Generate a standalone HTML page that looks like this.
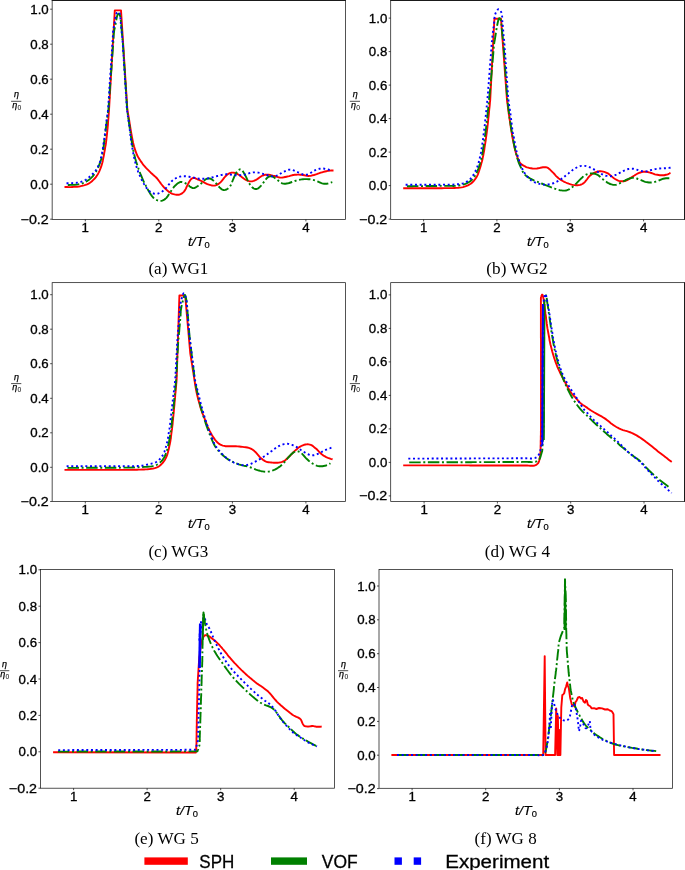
<!DOCTYPE html>
<html>
<head>
<meta charset="utf-8">
<title>Wave gauge comparison</title>
<style>
html,body{margin:0;padding:0;background:#ffffff;}
body{width:685px;height:870px;overflow:hidden;font-family:"Liberation Sans",sans-serif;}
svg{display:block;will-change:transform;}
</style>
</head>
<body>
<svg width="685" height="870" viewBox="0 0 685 870">
<rect x="0" y="0" width="685" height="870" fill="#ffffff"/>
<clipPath id="clip_a"><rect x="52.15" y="0.30" width="293.40" height="219.10"/></clipPath>
<g clip-path="url(#clip_a)" fill="none" stroke-linejoin="round">
<path d="M64.5,187.0 L65.6,187.0 L67.0,187.0 L68.8,187.1 L70.6,187.1 L72.3,187.0 L73.9,186.9 L75.5,186.8 L77.1,186.7 L78.8,186.5 L80.4,186.2 L82.1,185.8 L83.8,185.4 L85.5,184.9 L87.1,184.3 L88.6,183.6 L90.0,182.8 L91.3,181.8 L92.5,180.7 L93.6,179.6 L94.7,178.5 L95.7,177.4 L96.5,176.2 L97.3,175.0 L98.1,173.7 L98.8,172.3 L99.5,170.8 L100.2,169.2 L100.8,167.6 L101.4,165.9 L101.9,164.2 L102.4,162.5 L102.8,160.7 L103.1,159.0 L103.5,157.1 L103.9,155.0 L104.3,152.7 L104.8,150.1 L105.2,147.4 L105.7,144.9 L106.0,142.7 L106.2,140.9 L106.4,139.5 L106.5,138.2 L106.7,136.9 L106.8,135.6 L107.0,134.1 L107.1,132.7 L107.3,131.3 L107.4,129.9 L107.6,128.4 L107.7,126.8 L107.9,125.2 L108.0,123.5 L108.1,121.9 L108.2,120.2 L108.4,118.4 L108.5,116.5 L108.7,114.7 L108.8,113.1 L108.9,112.0 L114.8,10.4 L121.0,10.4 L127.4,110.0 L127.7,111.7 L128.1,114.0 L128.6,116.8 L129.1,119.6 L129.5,122.3 L129.9,124.8 L130.3,127.3 L130.7,129.8 L131.1,132.2 L131.5,134.5 L131.9,136.7 L132.3,138.8 L132.7,140.8 L133.1,142.8 L133.6,144.7 L134.1,146.6 L134.7,148.5 L135.3,150.4 L135.9,152.2 L136.6,153.9 L137.3,155.5 L138.1,157.0 L138.9,158.4 L139.8,159.7 L140.7,161.1 L141.6,162.4 L142.6,163.8 L143.6,165.1 L144.7,166.3 L145.8,167.6 L147.0,168.9 L148.3,170.2 L149.5,171.4 L150.8,172.7 L152.0,173.8 L153.1,174.8 L154.2,175.7 L155.2,176.6 L156.2,177.5 L157.1,178.5 L158.0,179.6 L158.8,180.7 L159.6,181.8 L160.4,182.9 L161.2,184.0 L162.0,185.0 L162.8,186.0 L163.6,186.9 L164.4,187.8 L165.3,188.7 L166.3,189.6 L167.3,190.5 L168.3,191.4 L169.4,192.1 L170.4,192.8 L171.4,193.3 L172.4,193.8 L173.5,194.1 L174.5,194.4 L175.5,194.6 L176.5,194.7 L177.6,194.7 L178.6,194.7 L179.6,194.5 L180.6,194.2 L181.5,193.7 L182.4,193.1 L183.2,192.4 L184.0,191.6 L184.7,190.7 L185.4,189.6 L186.0,188.4 L186.5,187.1 L187.1,185.8 L187.7,184.6 L188.3,183.5 L188.9,182.3 L189.6,181.2 L190.2,180.3 L190.8,179.5 L191.4,178.9 L192.0,178.5 L192.6,178.2 L193.2,178.0 L193.9,177.9 L194.6,178.0 L195.3,178.2 L196.0,178.6 L196.8,179.0 L197.5,179.3 L198.2,179.6 L198.9,179.9 L199.6,180.2 L200.4,180.5 L201.4,181.0 L202.6,181.6 L203.9,182.3 L205.3,183.1 L206.8,183.8 L208.2,184.4 L209.6,184.8 L211.0,185.2 L212.4,185.5 L213.7,185.6 L215.0,185.5 L216.2,185.2 L217.4,184.6 L218.5,183.9 L219.6,183.1 L220.7,182.1 L221.8,180.9 L223.0,179.4 L224.1,177.9 L225.3,176.5 L226.4,175.3 L227.5,174.4 L228.7,173.7 L229.8,173.2 L231.0,172.8 L232.1,172.6 L233.2,172.6 L234.3,172.8 L235.4,173.1 L236.6,173.6 L237.8,174.2 L239.1,175.0 L240.5,176.1 L242.0,177.2 L243.4,178.3 L244.7,179.2 L245.9,179.9 L247.1,180.5 L248.2,180.9 L249.3,181.2 L250.4,181.4 L251.5,181.4 L252.6,181.2 L253.8,180.9 L254.9,180.4 L256.0,179.9 L257.1,179.2 L258.3,178.4 L259.4,177.5 L260.6,176.7 L261.7,176.0 L262.8,175.5 L263.9,175.1 L265.0,174.8 L266.2,174.7 L267.4,174.6 L268.7,174.7 L270.1,174.9 L271.5,175.3 L272.9,175.7 L274.3,176.0 L275.7,176.4 L277.0,176.8 L278.4,177.2 L279.7,177.5 L281.1,177.6 L282.5,177.5 L283.8,177.3 L285.2,177.0 L286.5,176.7 L287.9,176.4 L289.3,176.1 L290.7,175.7 L292.0,175.3 L293.4,175.0 L294.8,174.8 L296.2,174.7 L297.5,174.6 L298.9,174.6 L300.2,174.7 L301.6,174.8 L303.0,175.0 L304.3,175.3 L305.7,175.6 L307.0,175.9 L308.4,176.0 L309.8,175.9 L311.2,175.7 L312.5,175.3 L313.9,175.0 L315.3,174.6 L316.7,174.2 L318.0,173.7 L319.4,173.2 L320.7,172.7 L322.1,172.3 L323.5,171.9 L324.9,171.5 L326.3,171.2 L327.7,170.9 L328.9,170.7 L330.0,170.6 L331.1,170.5 L332.1,170.5 L332.9,170.5 L333.5,170.5" stroke="#ff0000" stroke-width="1.90"/>
<path d="M67.8,185.0 L69.0,185.0 L70.6,184.9 L72.6,184.9 L74.6,184.8 L76.4,184.6 L78.1,184.4 L79.7,184.1 L81.3,183.7 L82.9,183.2 L84.5,182.6 L86.0,181.8 L87.5,180.8 L89.0,179.8 L90.4,178.6 L91.7,177.4 L92.9,176.2 L93.9,174.8 L94.9,173.5 L95.9,171.9 L96.8,170.3 L97.7,168.5 L98.6,166.5 L99.4,164.4 L100.2,162.3 L100.9,160.1 L101.5,157.9 L102.0,155.5 L102.5,153.1 L102.9,150.9 L103.3,148.8 L103.6,147.0 L103.8,145.3 L104.0,143.8 L104.2,142.2 L104.3,140.7 L104.6,139.0 L104.8,137.4 L105.0,135.8 L105.2,134.1 L105.4,132.5 L105.6,130.9 L105.8,129.2 L106.0,127.6 L106.2,125.9 L106.4,124.3 L106.6,122.6 L106.8,120.9 L107.0,119.2 L107.2,117.6 L107.4,116.1 L107.6,114.8 L107.8,113.6 L108.0,112.4 L108.2,111.2 L108.4,110.0 L108.5,108.6 L108.6,107.2 L108.7,105.8 L108.8,104.3 L108.9,102.9 L109.0,101.5 L109.1,100.1 L109.2,98.7 L109.3,97.2 L109.4,95.8 L109.5,94.4 L109.6,93.0 L109.7,91.6 L109.8,90.1 L109.9,88.7 L110.0,87.3 L110.1,85.9 L110.2,84.5 L110.3,83.1 L110.4,81.6 L110.5,80.2 L110.6,78.8 L110.7,77.4 L110.8,76.0 L110.9,74.5 L111.0,73.1 L111.1,71.7 L111.3,70.3 L111.4,68.9 L111.5,67.5 L111.6,66.0 L111.7,64.6 L111.8,63.2 L111.9,61.8 L112.0,60.4 L112.1,58.9 L112.2,57.5 L112.3,56.1 L112.4,54.7 L112.5,53.3 L112.6,51.9 L112.7,50.4 L112.8,49.0 L112.9,47.6 L113.0,46.2 L113.1,44.8 L113.2,43.3 L113.3,41.9 L113.4,40.5 L113.5,39.1 L113.6,37.7 L113.6,36.3 L113.7,34.9 L113.8,33.5 L114.0,32.0 L114.2,30.5 L114.5,28.9 L114.9,27.4 L115.2,25.8 L115.5,24.2 L115.8,22.6 L116.1,20.9 L116.4,19.3 L116.7,17.7 L117.0,16.5 L117.3,15.5 L117.7,14.7 L118.0,14.0 L118.4,13.7 L118.7,13.6 L119.1,13.9 L119.5,14.4 L119.8,15.2 L120.2,16.3 L120.5,17.5 L120.7,19.0 L120.9,20.8 L121.0,22.7 L121.2,24.7 L121.3,26.7 L121.5,28.5 L121.7,30.3 L121.8,32.2 L122.0,34.0 L122.2,35.8 L122.3,37.7 L122.5,39.6 L122.7,41.5 L122.9,43.3 L123.0,45.0 L123.1,46.6 L123.2,48.0 L123.3,49.4 L123.4,50.8 L123.5,52.2 L123.6,53.7 L123.7,55.1 L123.7,56.6 L123.8,58.0 L123.9,59.4 L124.0,60.9 L124.1,62.3 L124.2,63.8 L124.3,65.2 L124.4,66.7 L124.5,68.1 L124.6,69.6 L124.7,71.0 L124.8,72.4 L124.9,73.9 L125.0,75.3 L125.1,76.8 L125.1,78.2 L125.2,79.7 L125.3,81.1 L125.4,82.6 L125.5,84.0 L125.6,85.4 L125.7,86.9 L125.8,88.3 L125.9,89.8 L126.0,91.2 L126.1,92.7 L126.2,94.1 L126.3,95.6 L126.4,97.0 L126.5,98.4 L126.5,99.9 L126.6,101.3 L126.7,102.8 L126.8,104.2 L126.9,105.6 L127.0,107.0 L127.1,108.5 L127.2,110.0 L127.4,111.6 L127.6,113.2 L127.9,114.9 L128.1,116.5 L128.3,118.2 L128.6,119.8 L128.8,121.5 L129.0,123.1 L129.3,124.8 L129.5,126.4 L129.7,128.0 L130.0,129.7 L130.2,131.3 L130.5,132.9 L130.7,134.6 L130.9,136.1 L131.1,137.6 L131.3,139.1 L131.6,140.7 L131.9,142.7 L132.3,145.0 L132.8,147.6 L133.3,150.4 L133.9,153.3 L134.6,156.0 L135.3,158.7 L136.1,161.5 L137.0,164.2 L137.9,166.8 L138.7,169.3 L139.5,171.6 L140.3,173.7 L141.2,175.7 L142.0,177.6 L142.8,179.5 L143.6,181.3 L144.4,183.0 L145.3,184.6 L146.1,186.2 L146.9,187.7 L147.7,189.2 L148.5,190.8 L149.4,192.2 L150.2,193.6 L151.0,194.8 L151.8,195.9 L152.6,196.8 L153.3,197.7 L154.1,198.4 L155.0,199.1 L155.9,199.7 L157.0,200.2 L158.0,200.6 L159.1,200.9 L160.1,201.0 L161.2,200.9 L162.2,200.6 L163.3,200.1 L164.3,199.6 L165.3,198.9 L166.2,198.1 L167.0,197.1 L167.8,196.1 L168.5,194.9 L169.3,193.8 L170.1,192.6 L170.9,191.3 L171.8,190.0 L172.6,188.8 L173.4,187.7 L174.2,186.7 L175.0,185.8 L175.9,185.0 L176.7,184.2 L177.5,183.6 L178.3,183.0 L179.1,182.6 L179.9,182.2 L180.7,182.0 L181.6,181.9 L182.6,182.1 L183.6,182.4 L184.6,182.9 L185.7,183.4 L186.7,184.0 L187.7,184.7 L188.8,185.6 L189.8,186.4 L190.9,187.2 L191.8,187.7 L192.6,188.0 L193.4,188.1 L194.1,188.0 L194.8,187.8 L195.7,187.4 L196.7,186.8 L197.9,186.0 L199.1,185.1 L200.3,184.2 L201.4,183.3 L202.4,182.4 L203.3,181.5 L204.2,180.6 L205.0,179.8 L205.9,179.2 L206.8,178.8 L207.7,178.6 L208.7,178.4 L209.6,178.5 L210.5,178.7 L211.4,179.1 L212.3,179.7 L213.2,180.4 L214.1,181.2 L215.0,182.1 L215.9,183.1 L216.8,184.2 L217.8,185.4 L218.7,186.5 L219.6,187.4 L220.5,188.2 L221.4,189.0 L222.3,189.6 L223.2,190.0 L224.2,190.1 L225.3,189.9 L226.5,189.5 L227.7,188.8 L228.8,187.9 L229.9,186.7 L230.9,185.0 L231.8,182.9 L232.7,180.5 L233.6,178.3 L234.4,176.4 L235.2,174.9 L235.8,173.6 L236.5,172.4 L237.1,171.5 L237.8,170.7 L238.5,170.1 L239.2,169.7 L239.8,169.4 L240.5,169.4 L241.2,169.6 L241.9,170.1 L242.5,170.8 L243.2,171.8 L243.9,172.9 L244.7,174.2 L245.5,175.8 L246.4,177.7 L247.3,179.7 L248.3,181.7 L249.2,183.3 L250.1,184.7 L251.0,185.9 L252.0,187.0 L252.9,187.9 L253.8,188.5 L254.7,188.9 L255.6,189.0 L256.5,189.0 L257.4,188.7 L258.3,188.3 L259.2,187.6 L260.1,186.7 L261.1,185.6 L262.0,184.4 L262.9,183.3 L263.8,182.1 L264.7,180.9 L265.6,179.6 L266.5,178.5 L267.4,177.6 L268.3,177.0 L269.2,176.6 L270.2,176.4 L271.1,176.3 L272.0,176.4 L272.9,176.7 L273.7,177.2 L274.6,177.8 L275.5,178.5 L276.5,179.2 L277.6,180.0 L278.7,180.9 L279.9,181.9 L281.0,182.7 L282.2,183.3 L283.3,183.6 L284.4,183.7 L285.5,183.7 L286.7,183.5 L287.9,183.3 L289.2,183.0 L290.6,182.5 L292.0,182.0 L293.4,181.5 L294.8,181.0 L296.2,180.6 L297.5,180.2 L298.9,179.9 L300.2,179.6 L301.6,179.4 L303.0,179.2 L304.3,179.1 L305.7,179.1 L307.0,179.1 L308.4,179.2 L309.8,179.3 L311.2,179.5 L312.5,179.8 L313.9,180.1 L315.3,180.5 L316.7,181.0 L318.1,181.6 L319.6,182.3 L320.9,182.9 L322.1,183.3 L323.1,183.6 L324.0,183.7 L324.8,183.8 L325.7,183.8 L326.6,183.7 L327.8,183.5 L329.1,183.1 L330.4,182.7 L331.5,182.3 L332.3,182.1" stroke="#008000" stroke-width="1.90" stroke-dasharray="11.5 2.6 2.0 2.56"/>
<path d="M66.5,183.2 L67.9,183.2 L69.8,183.2 L72.1,183.1 L74.4,183.0 L76.4,182.8 L78.2,182.5 L79.9,182.1 L81.5,181.7 L83.0,181.1 L84.5,180.5 L85.9,179.7 L87.2,178.8 L88.4,177.9 L89.6,176.8 L90.7,175.8 L91.8,174.8 L92.9,173.8 L93.9,172.7 L94.9,171.6 L95.8,170.3 L96.7,168.9 L97.6,167.4 L98.4,165.7 L99.2,164.0 L99.9,162.1 L100.5,160.0 L101.1,157.6 L101.6,155.2 L102.1,152.9 L102.5,150.9 L102.8,149.2 L103.0,147.7 L103.2,146.4 L103.4,145.1 L103.5,143.8 L103.8,142.3 L104.0,140.9 L104.2,139.5 L104.4,138.1 L104.6,136.6 L104.8,135.0 L105.0,133.4 L105.2,131.7 L105.4,130.1 L105.6,128.4 L105.8,126.8 L106.0,125.2 L106.2,123.6 L106.4,122.0 L106.6,120.2 L106.9,118.2 L107.2,116.1 L107.5,114.0 L107.8,111.9 L108.0,110.0 L108.2,108.4 L108.3,106.9 L108.3,105.5 L108.4,104.1 L108.5,102.7 L108.6,101.3 L108.7,99.8 L108.8,98.4 L108.9,96.9 L109.0,95.5 L109.1,94.0 L109.2,92.5 L109.3,91.1 L109.3,89.6 L109.4,88.2 L109.5,86.7 L109.6,85.3 L109.7,83.8 L109.8,82.4 L109.9,80.9 L110.0,79.5 L110.1,78.0 L110.2,76.5 L110.3,75.1 L110.4,73.6 L110.5,72.2 L110.6,70.7 L110.7,69.3 L110.8,67.8 L110.9,66.4 L111.0,64.9 L111.1,63.5 L111.2,62.0 L111.3,60.5 L111.4,59.1 L111.5,57.6 L111.6,56.2 L111.7,54.7 L111.8,53.3 L111.9,51.8 L112.0,50.4 L112.0,48.9 L112.1,47.5 L112.2,46.0 L112.3,44.5 L112.4,43.1 L112.5,41.6 L112.6,40.2 L112.7,38.7 L112.8,37.3 L112.9,35.8 L113.0,34.4 L113.0,33.0 L113.1,31.5 L113.3,30.0 L113.5,28.4 L113.8,26.9 L114.2,25.2 L114.5,23.6 L114.8,22.0 L115.1,20.3 L115.4,18.5 L115.7,16.8 L116.0,15.2 L116.3,14.0 L116.7,13.1 L117.0,12.6 L117.4,12.2 L117.8,12.0 L118.2,12.0 L118.6,12.1 L119.0,12.4 L119.4,12.9 L119.7,13.5 L120.0,14.5 L120.2,15.8 L120.4,17.5 L120.5,19.3 L120.7,21.2 L120.8,23.0 L121.0,24.7 L121.2,26.4 L121.3,28.1 L121.5,29.8 L121.7,31.5 L121.8,33.2 L122.0,35.0 L122.2,36.7 L122.4,38.4 L122.5,40.0 L122.6,41.5 L122.7,42.9 L122.8,44.3 L122.9,45.6 L123.0,47.0 L123.0,48.4 L123.1,49.8 L123.2,51.2 L123.3,52.6 L123.4,54.0 L123.5,55.4 L123.6,56.8 L123.7,58.2 L123.8,59.6 L123.8,61.0 L123.9,62.4 L124.0,63.8 L124.1,65.2 L124.2,66.6 L124.3,68.0 L124.4,69.4 L124.5,70.8 L124.6,72.2 L124.7,73.6 L124.8,75.0 L124.8,76.4 L124.9,77.8 L125.0,79.2 L125.1,80.6 L125.2,82.0 L125.3,83.4 L125.4,84.8 L125.5,86.2 L125.6,87.6 L125.7,89.0 L125.7,90.4 L125.8,91.8 L125.9,93.2 L126.0,94.6 L126.1,96.0 L126.2,97.4 L126.3,98.8 L126.4,100.2 L126.5,101.6 L126.5,103.0 L126.6,104.4 L126.7,105.8 L126.8,107.2 L126.9,108.6 L127.0,110.0 L127.2,111.4 L127.4,112.8 L127.6,114.3 L127.8,115.7 L128.1,117.2 L128.3,118.6 L128.5,120.0 L128.7,121.4 L128.9,122.8 L129.1,124.3 L129.3,125.9 L129.5,127.5 L129.7,129.2 L129.9,130.8 L130.1,132.5 L130.3,134.1 L130.4,135.6 L130.6,137.1 L130.8,138.8 L131.1,140.7 L131.4,142.9 L131.8,145.3 L132.3,147.8 L132.7,150.4 L133.2,152.9 L133.7,155.4 L134.2,157.9 L134.8,160.4 L135.4,162.9 L136.0,165.2 L136.7,167.4 L137.4,169.5 L138.1,171.6 L138.9,173.5 L139.7,175.4 L140.5,177.2 L141.3,178.9 L142.1,180.6 L143.0,182.1 L143.8,183.6 L144.6,185.0 L145.4,186.3 L146.3,187.6 L147.1,188.7 L147.9,189.7 L148.7,190.5 L149.5,191.3 L150.4,191.9 L151.2,192.4 L152.0,192.8 L152.8,193.2 L153.6,193.5 L154.4,193.7 L155.2,193.8 L156.1,193.8 L157.1,193.7 L158.1,193.5 L159.1,193.2 L160.2,192.7 L161.2,192.2 L162.2,191.5 L163.2,190.7 L164.3,189.8 L165.3,188.8 L166.3,187.7 L167.3,186.5 L168.3,185.2 L169.4,183.9 L170.4,182.6 L171.4,181.5 L172.4,180.6 L173.4,179.8 L174.4,179.1 L175.4,178.5 L176.5,177.9 L177.6,177.4 L178.8,177.0 L180.0,176.6 L181.2,176.3 L182.6,176.2 L184.1,176.2 L185.7,176.3 L187.4,176.5 L189.1,176.7 L190.8,177.0 L192.4,177.3 L194.1,177.7 L195.7,178.1 L197.4,178.5 L199.1,178.7 L200.9,178.8 L202.7,178.8 L204.5,178.7 L206.4,178.5 L208.2,178.3 L210.0,178.0 L211.8,177.5 L213.7,177.0 L215.5,176.5 L217.3,176.0 L219.1,175.6 L220.9,175.1 L222.8,174.7 L224.6,174.4 L226.4,174.2 L228.2,174.3 L230.0,174.5 L231.9,174.9 L233.7,175.1 L235.5,175.3 L237.4,175.3 L239.3,175.2 L241.2,175.1 L243.0,174.9 L244.7,174.6 L246.2,174.3 L247.6,173.8 L248.9,173.3 L250.2,172.9 L251.5,172.6 L252.9,172.4 L254.2,172.4 L255.6,172.4 L256.9,172.4 L258.3,172.6 L259.7,172.9 L261.1,173.3 L262.4,173.7 L263.8,174.2 L265.2,174.6 L266.6,175.0 L268.0,175.5 L269.4,175.9 L270.7,176.2 L272.0,176.4 L273.2,176.4 L274.4,176.3 L275.5,176.0 L276.6,175.7 L277.7,175.3 L278.8,174.7 L279.9,174.1 L281.0,173.3 L282.2,172.5 L283.4,171.9 L284.7,171.3 L286.0,170.7 L287.4,170.1 L288.8,169.7 L290.2,169.6 L291.6,169.8 L292.9,170.2 L294.3,170.7 L295.6,171.3 L297.0,171.9 L298.4,172.5 L299.9,173.1 L301.3,173.7 L302.7,174.3 L303.9,174.6 L304.9,174.8 L305.8,174.8 L306.6,174.7 L307.5,174.5 L308.4,174.2 L309.4,173.7 L310.5,173.0 L311.7,172.2 L312.9,171.4 L314.1,170.7 L315.4,170.1 L316.8,169.6 L318.3,169.1 L319.7,168.7 L321.0,168.5 L322.2,168.4 L323.3,168.5 L324.4,168.7 L325.5,169.0 L326.6,169.2 L327.8,169.5 L329.1,169.8 L330.4,170.2 L331.5,170.5 L332.3,170.7" stroke="#0000ff" stroke-width="1.90" stroke-dasharray="2.0 2.68"/>
</g>
<rect x="52.15" y="0.30" width="293.40" height="219.10" fill="none" stroke="#1a1a1a" stroke-width="0.75"/>
<line x1="51.75" y1="0.5" x2="345.95" y2="0.5" stroke="#1a1a1a" stroke-width="1"/>
<line x1="85.30" y1="219.40" x2="85.30" y2="221.40" stroke="#1a1a1a" stroke-width="0.75"/>
<text x="85.30" y="232.30" font-family='"Liberation Sans", sans-serif' font-size="12.50" text-anchor="middle" textLength="7.38" lengthAdjust="spacingAndGlyphs" fill="#000" stroke="#000" stroke-width="0.3">1</text>
<line x1="158.80" y1="219.40" x2="158.80" y2="221.40" stroke="#1a1a1a" stroke-width="0.75"/>
<text x="158.80" y="232.30" font-family='"Liberation Sans", sans-serif' font-size="12.50" text-anchor="middle" textLength="7.38" lengthAdjust="spacingAndGlyphs" fill="#000" stroke="#000" stroke-width="0.3">2</text>
<line x1="232.40" y1="219.40" x2="232.40" y2="221.40" stroke="#1a1a1a" stroke-width="0.75"/>
<text x="232.40" y="232.30" font-family='"Liberation Sans", sans-serif' font-size="12.50" text-anchor="middle" textLength="7.38" lengthAdjust="spacingAndGlyphs" fill="#000" stroke="#000" stroke-width="0.3">3</text>
<line x1="305.90" y1="219.40" x2="305.90" y2="221.40" stroke="#1a1a1a" stroke-width="0.75"/>
<text x="305.90" y="232.30" font-family='"Liberation Sans", sans-serif' font-size="12.50" text-anchor="middle" textLength="7.38" lengthAdjust="spacingAndGlyphs" fill="#000" stroke="#000" stroke-width="0.3">4</text>
<line x1="50.15" y1="9.20" x2="52.15" y2="9.20" stroke="#1a1a1a" stroke-width="0.75"/>
<text x="48.75" y="13.70" font-family='"Liberation Sans", sans-serif' font-size="12.50" text-anchor="end" textLength="18.44" lengthAdjust="spacingAndGlyphs" fill="#000" stroke="#000" stroke-width="0.3">1.0</text>
<line x1="50.15" y1="44.20" x2="52.15" y2="44.20" stroke="#1a1a1a" stroke-width="0.75"/>
<text x="48.75" y="48.70" font-family='"Liberation Sans", sans-serif' font-size="12.50" text-anchor="end" textLength="18.44" lengthAdjust="spacingAndGlyphs" fill="#000" stroke="#000" stroke-width="0.3">0.8</text>
<line x1="50.15" y1="79.20" x2="52.15" y2="79.20" stroke="#1a1a1a" stroke-width="0.75"/>
<text x="48.75" y="83.70" font-family='"Liberation Sans", sans-serif' font-size="12.50" text-anchor="end" textLength="18.44" lengthAdjust="spacingAndGlyphs" fill="#000" stroke="#000" stroke-width="0.3">0.6</text>
<line x1="50.15" y1="114.20" x2="52.15" y2="114.20" stroke="#1a1a1a" stroke-width="0.75"/>
<text x="48.75" y="118.70" font-family='"Liberation Sans", sans-serif' font-size="12.50" text-anchor="end" textLength="18.44" lengthAdjust="spacingAndGlyphs" fill="#000" stroke="#000" stroke-width="0.3">0.4</text>
<line x1="50.15" y1="149.20" x2="52.15" y2="149.20" stroke="#1a1a1a" stroke-width="0.75"/>
<text x="48.75" y="153.70" font-family='"Liberation Sans", sans-serif' font-size="12.50" text-anchor="end" textLength="18.44" lengthAdjust="spacingAndGlyphs" fill="#000" stroke="#000" stroke-width="0.3">0.2</text>
<line x1="50.15" y1="184.20" x2="52.15" y2="184.20" stroke="#1a1a1a" stroke-width="0.75"/>
<text x="48.75" y="188.70" font-family='"Liberation Sans", sans-serif' font-size="12.50" text-anchor="end" textLength="18.44" lengthAdjust="spacingAndGlyphs" fill="#000" stroke="#000" stroke-width="0.3">0.0</text>
<line x1="50.15" y1="219.20" x2="52.15" y2="219.20" stroke="#1a1a1a" stroke-width="0.75"/>
<text x="48.75" y="223.70" font-family='"Liberation Sans", sans-serif' font-size="12.50" text-anchor="end" textLength="28.16" lengthAdjust="spacingAndGlyphs" fill="#000" stroke="#000" stroke-width="0.3">−0.2</text>
<text x="187.90" y="245.50" font-family='"Liberation Sans", sans-serif' font-size="12.1" font-style="italic" textLength="16.6" lengthAdjust="spacingAndGlyphs" stroke="#000" stroke-width="0.12">t/T</text>
<text x="204.60" y="247.70" font-family='"Liberation Sans", sans-serif' font-size="9.8" textLength="5.2" lengthAdjust="spacingAndGlyphs" stroke="#000" stroke-width="0.2">0</text>
<text x="16.50" y="97.30" font-family='"Liberation Sans", sans-serif' font-size="9.0" font-style="italic" text-anchor="middle" stroke="#000" stroke-width="0.25">η</text>
<line x1="11.10" y1="101.30" x2="21.30" y2="101.30" stroke="#222" stroke-width="0.8"/>
<text x="14.70" y="107.90" font-family='"Liberation Sans", sans-serif' font-size="9.0" font-style="italic" text-anchor="middle" stroke="#000" stroke-width="0.25">η</text>
<text x="19.50" y="109.60" font-family='"Liberation Sans", sans-serif' font-size="6.8" text-anchor="middle">0</text>
<text x="148.40" y="274.20" font-family='"Liberation Serif", serif' font-size="17.60" text-anchor="start" textLength="59.90" lengthAdjust="spacingAndGlyphs" fill="#000">(a) WG1</text>
<clipPath id="clip_b"><rect x="390.70" y="0.40" width="293.80" height="219.00"/></clipPath>
<g clip-path="url(#clip_b)" fill="none" stroke-linejoin="round">
<path d="M403.2,188.3 L404.3,188.3 L405.9,188.3 L407.7,188.3 L409.6,188.3 L411.4,188.3 L413.0,188.3 L414.6,188.3 L416.3,188.3 L417.9,188.3 L419.5,188.3 L421.2,188.3 L422.8,188.3 L424.5,188.3 L426.1,188.3 L427.7,188.3 L429.3,188.3 L430.9,188.3 L432.5,188.3 L434.1,188.3 L435.9,188.3 L437.8,188.3 L439.8,188.2 L441.9,188.2 L444.0,188.1 L446.1,188.1 L448.2,188.1 L450.3,188.1 L452.4,188.1 L454.4,188.0 L456.3,187.9 L458.1,187.8 L459.8,187.6 L461.5,187.4 L463.0,187.1 L464.5,186.7 L465.9,186.2 L467.2,185.7 L468.4,185.1 L469.5,184.5 L470.6,183.8 L471.6,183.1 L472.4,182.3 L473.2,181.5 L474.0,180.6 L474.7,179.7 L475.4,178.8 L476.0,177.9 L476.6,177.0 L477.2,175.9 L477.8,174.6 L478.4,173.0 L479.0,171.3 L479.6,169.3 L480.2,167.4 L480.8,165.4 L481.3,163.5 L481.9,161.5 L482.4,159.5 L482.8,157.4 L483.3,155.2 L483.7,152.9 L484.2,150.4 L484.5,147.9 L484.9,145.4 L485.3,142.9 L485.7,140.4 L486.0,137.8 L486.4,135.2 L486.7,132.8 L487.0,130.7 L487.2,128.9 L487.4,127.5 L487.5,126.1 L487.7,124.9 L487.8,123.5 L488.0,122.1 L488.1,120.7 L488.3,119.2 L488.4,117.8 L488.6,116.3 L488.8,114.7 L488.9,113.1 L489.1,111.5 L489.2,109.8 L489.4,108.2 L489.6,106.4 L489.8,104.5 L489.9,102.7 L490.1,101.1 L490.2,100.0 L494.4,18.8 L501.0,18.8 L507.0,100.0 L507.2,101.8 L507.6,104.3 L507.9,107.2 L508.3,110.0 L508.6,112.3 L508.8,114.1 L509.1,115.5 L509.3,116.8 L509.4,118.1 L509.6,119.4 L509.9,120.9 L510.1,122.3 L510.3,123.7 L510.5,125.2 L510.7,126.6 L510.9,128.0 L511.2,129.5 L511.4,130.9 L511.7,132.3 L511.9,133.8 L512.1,135.1 L512.3,136.4 L512.5,137.7 L512.8,139.1 L513.1,140.9 L513.6,143.1 L514.1,145.6 L514.7,148.2 L515.3,150.8 L516.0,153.1 L516.7,155.2 L517.4,157.3 L518.2,159.2 L518.9,160.9 L519.7,162.3 L520.4,163.4 L521.1,164.1 L521.9,164.6 L522.7,165.1 L523.6,165.6 L524.6,166.2 L525.8,166.8 L527.0,167.3 L528.3,167.7 L529.6,168.1 L531.0,168.3 L532.5,168.5 L534.0,168.6 L535.5,168.6 L536.9,168.5 L538.2,168.3 L539.5,168.1 L540.6,167.7 L541.8,167.5 L542.9,167.3 L543.9,167.2 L544.9,167.2 L545.8,167.2 L546.8,167.4 L547.7,167.8 L548.6,168.4 L549.6,169.2 L550.5,170.1 L551.5,171.1 L552.5,172.1 L553.6,173.2 L554.8,174.5 L555.9,175.8 L557.2,177.1 L558.5,178.2 L559.9,179.2 L561.3,180.1 L562.8,181.0 L564.3,181.8 L565.8,182.5 L567.2,183.1 L568.7,183.7 L570.1,184.2 L571.6,184.6 L573.0,184.9 L574.5,185.1 L576.0,185.2 L577.5,185.2 L578.9,185.1 L580.2,184.9 L581.3,184.5 L582.3,184.0 L583.2,183.4 L584.1,182.7 L585.0,181.8 L585.9,180.7 L586.9,179.5 L587.8,178.2 L588.8,176.9 L589.8,175.8 L590.9,174.9 L592.2,174.0 L593.4,173.3 L594.7,172.6 L595.9,172.1 L597.1,171.7 L598.3,171.5 L599.5,171.3 L600.7,171.3 L601.9,171.4 L603.1,171.6 L604.3,171.9 L605.5,172.3 L606.7,172.8 L607.9,173.4 L609.1,174.2 L610.3,175.2 L611.5,176.3 L612.7,177.3 L613.9,178.2 L615.1,179.0 L616.3,179.7 L617.6,180.3 L618.8,180.8 L620.0,181.1 L621.2,181.3 L622.4,181.3 L623.6,181.2 L624.8,181.0 L626.0,180.6 L627.2,180.1 L628.4,179.4 L629.6,178.6 L630.8,177.8 L632.0,177.0 L633.2,176.2 L634.4,175.5 L635.6,174.7 L636.8,174.0 L638.0,173.4 L639.2,172.9 L640.4,172.5 L641.6,172.1 L642.8,171.8 L644.0,171.7 L645.2,171.7 L646.4,171.8 L647.7,172.0 L648.9,172.3 L650.1,172.6 L651.3,173.0 L652.5,173.4 L653.7,173.8 L654.9,174.3 L656.1,174.6 L657.3,174.8 L658.6,175.0 L659.8,175.2 L661.0,175.3 L662.1,175.3 L663.2,175.3 L664.2,175.2 L665.1,175.0 L666.0,174.8 L666.9,174.6 L667.8,174.3 L668.6,173.9 L669.4,173.5 L670.0,173.1 L670.5,172.9" stroke="#ff0000" stroke-width="1.90"/>
<path d="M406.9,186.2 L407.9,186.2 L409.2,186.2 L410.8,186.2 L412.4,186.2 L414.0,186.1 L415.4,186.1 L416.8,186.1 L418.2,186.1 L419.6,186.1 L421.0,186.1 L422.4,186.1 L423.8,186.1 L425.2,186.1 L426.7,186.0 L428.1,186.0 L429.5,186.0 L430.9,186.0 L432.3,186.0 L433.7,186.0 L435.1,186.0 L436.5,186.0 L438.0,185.9 L439.4,185.9 L440.8,185.9 L442.2,185.9 L443.6,185.9 L445.0,185.9 L446.4,185.9 L447.8,185.9 L449.2,185.9 L450.6,185.9 L452.0,185.9 L453.3,186.0 L454.8,185.9 L456.3,185.8 L458.1,185.6 L460.0,185.2 L461.9,184.8 L463.8,184.3 L465.5,183.8 L467.0,183.2 L468.3,182.5 L469.5,181.8 L470.6,181.0 L471.6,180.1 L472.6,179.1 L473.4,178.1 L474.2,177.0 L475.0,175.8 L475.7,174.6 L476.4,173.3 L477.0,172.0 L477.6,170.6 L478.2,169.1 L478.8,167.4 L479.4,165.4 L480.1,163.3 L480.7,161.0 L481.4,158.6 L481.9,156.2 L482.4,153.7 L482.8,151.1 L483.2,148.5 L483.6,146.1 L483.9,143.9 L484.2,142.1 L484.4,140.5 L484.6,139.1 L484.8,137.7 L484.9,136.2 L485.2,134.7 L485.4,133.2 L485.6,131.6 L485.8,130.1 L486.0,128.6 L486.2,127.1 L486.3,125.7 L486.5,124.3 L486.6,122.9 L486.8,121.4 L487.0,120.0 L487.1,118.6 L487.3,117.2 L487.4,115.7 L487.6,114.3 L487.7,112.9 L487.9,111.4 L488.0,110.0 L488.2,108.6 L488.3,107.2 L488.4,105.7 L488.6,104.3 L488.7,102.9 L488.9,101.4 L489.0,100.0 L489.1,98.5 L489.3,97.1 L489.4,95.6 L489.6,94.2 L489.8,92.7 L489.9,91.3 L490.1,89.8 L490.2,88.4 L490.4,86.9 L490.5,85.4 L490.6,83.8 L490.8,82.2 L490.9,80.6 L491.1,78.9 L491.2,77.3 L491.3,75.7 L491.5,74.1 L491.6,72.5 L491.8,70.9 L491.9,69.2 L492.0,67.6 L492.2,66.0 L492.3,64.4 L492.5,62.8 L492.6,61.2 L492.7,59.5 L492.9,57.9 L493.0,56.3 L493.2,54.7 L493.3,53.1 L493.4,51.5 L493.5,49.9 L493.7,48.3 L493.8,46.7 L494.0,45.0 L494.2,43.2 L494.5,41.3 L494.9,39.4 L495.2,37.4 L495.5,35.5 L495.8,33.6 L496.1,31.6 L496.4,29.7 L496.7,27.8 L497.0,26.0 L497.4,24.2 L497.8,22.3 L498.2,20.6 L498.6,19.2 L499.0,18.4 L499.4,18.2 L499.9,18.4 L500.3,19.1 L500.7,20.0 L501.0,21.0 L501.2,22.3 L501.4,23.8 L501.6,25.5 L501.7,27.3 L501.8,29.0 L502.0,30.6 L502.2,32.2 L502.3,33.8 L502.5,35.4 L502.7,37.0 L502.8,38.6 L503.0,40.2 L503.2,41.8 L503.4,43.4 L503.5,45.0 L503.6,46.6 L503.7,48.2 L503.8,49.7 L504.0,51.3 L504.1,52.9 L504.2,54.4 L504.3,56.0 L504.4,57.6 L504.5,59.1 L504.6,60.7 L504.7,62.3 L504.8,63.9 L504.9,65.4 L505.1,67.0 L505.2,68.6 L505.3,70.1 L505.4,71.7 L505.5,73.3 L505.6,74.9 L505.7,76.4 L505.8,78.0 L506.0,79.6 L506.1,81.1 L506.2,82.7 L506.3,84.3 L506.4,85.9 L506.5,87.4 L506.6,89.0 L506.7,90.6 L506.8,92.1 L506.9,93.7 L507.0,95.3 L507.1,96.8 L507.3,98.4 L507.4,100.0 L507.6,101.6 L507.8,103.2 L508.0,104.9 L508.2,106.5 L508.4,108.2 L508.6,109.8 L508.8,111.4 L509.0,113.0 L509.2,114.7 L509.4,116.3 L509.6,117.9 L509.9,119.6 L510.1,121.2 L510.4,122.9 L510.6,124.5 L510.9,126.2 L511.1,127.8 L511.4,129.5 L511.6,131.1 L511.9,132.7 L512.2,134.2 L512.4,135.6 L512.7,137.0 L513.0,138.4 L513.2,139.8 L513.5,141.2 L513.7,142.5 L513.9,143.8 L514.2,145.2 L514.6,147.0 L515.1,149.2 L515.6,151.7 L516.3,154.4 L516.9,157.0 L517.6,159.3 L518.3,161.4 L519.0,163.4 L519.8,165.2 L520.6,166.9 L521.3,168.5 L522.0,169.9 L522.5,171.2 L523.1,172.4 L523.9,173.5 L524.8,174.6 L526.0,175.7 L527.3,176.6 L528.8,177.6 L530.3,178.5 L532.0,179.4 L533.8,180.3 L535.7,181.1 L537.7,181.9 L539.7,182.7 L541.7,183.5 L543.6,184.3 L545.6,185.1 L547.6,185.9 L549.5,186.6 L551.3,187.3 L553.1,188.0 L554.8,188.7 L556.5,189.3 L558.1,189.8 L559.7,190.2 L561.3,190.4 L562.8,190.6 L564.2,190.6 L565.6,190.5 L567.0,190.2 L568.3,189.7 L569.5,189.1 L570.7,188.4 L571.8,187.5 L573.0,186.6 L574.2,185.5 L575.4,184.3 L576.6,183.1 L577.8,181.8 L579.0,180.6 L580.2,179.4 L581.4,178.3 L582.6,177.1 L583.8,176.1 L585.0,175.3 L586.2,174.7 L587.4,174.1 L588.6,173.8 L589.8,173.5 L591.0,173.4 L592.2,173.4 L593.4,173.5 L594.7,173.7 L595.9,174.1 L597.1,174.6 L598.3,175.3 L599.5,176.3 L600.7,177.4 L601.9,178.4 L603.1,179.4 L604.3,180.3 L605.5,181.2 L606.7,182.1 L607.9,182.9 L609.1,183.5 L610.3,184.0 L611.5,184.4 L612.7,184.7 L613.9,184.9 L615.1,184.9 L616.3,184.7 L617.5,184.2 L618.8,183.7 L620.0,183.1 L621.2,182.5 L622.4,181.9 L623.6,181.2 L624.8,180.6 L626.0,179.9 L627.2,179.4 L628.4,178.9 L629.6,178.5 L630.8,178.1 L632.0,177.8 L633.2,177.7 L634.4,177.8 L635.6,178.1 L636.8,178.5 L638.0,179.0 L639.2,179.4 L640.4,179.9 L641.6,180.4 L642.8,180.9 L644.0,181.4 L645.2,181.8 L646.4,182.1 L647.6,182.3 L648.9,182.5 L650.1,182.5 L651.3,182.5 L652.5,182.4 L653.7,182.1 L654.9,181.8 L656.1,181.5 L657.3,181.1 L658.5,180.7 L659.7,180.1 L660.9,179.6 L662.1,179.1 L663.3,178.7 L664.6,178.5 L666.0,178.3 L667.3,178.3 L668.5,178.2 L669.3,178.2" stroke="#008000" stroke-width="1.90" stroke-dasharray="11.5 2.6 2.0 2.56"/>
<path d="M405.6,184.8 L406.6,184.8 L408.1,184.8 L409.8,184.8 L411.5,184.8 L413.2,184.8 L414.7,184.8 L416.2,184.8 L417.7,184.8 L419.2,184.8 L420.8,184.8 L422.3,184.8 L423.8,184.8 L425.3,184.8 L426.8,184.8 L428.3,184.8 L429.8,184.8 L431.2,184.8 L432.7,184.8 L434.2,184.8 L435.9,184.8 L437.8,184.8 L439.8,184.7 L441.9,184.7 L444.0,184.6 L446.1,184.6 L448.2,184.6 L450.3,184.6 L452.4,184.6 L454.4,184.5 L456.3,184.4 L458.1,184.2 L459.8,184.0 L461.5,183.7 L463.0,183.3 L464.5,182.8 L465.9,182.2 L467.2,181.4 L468.4,180.6 L469.5,179.7 L470.6,178.7 L471.6,177.6 L472.4,176.5 L473.2,175.2 L474.0,173.9 L474.7,172.6 L475.4,171.3 L476.0,169.9 L476.6,168.5 L477.2,167.0 L477.8,165.4 L478.4,163.6 L478.9,161.6 L479.4,159.6 L479.9,157.4 L480.4,155.2 L480.9,152.9 L481.3,150.4 L481.7,147.9 L482.1,145.4 L482.5,142.9 L482.9,140.4 L483.2,137.8 L483.5,135.2 L483.8,132.8 L484.1,130.7 L484.3,128.9 L484.5,127.5 L484.6,126.1 L484.8,124.9 L484.9,123.5 L485.1,122.1 L485.2,120.7 L485.4,119.2 L485.5,117.8 L485.7,116.3 L485.9,114.7 L486.0,113.1 L486.2,111.5 L486.4,109.8 L486.5,108.2 L486.7,106.5 L486.9,104.9 L487.1,103.2 L487.2,101.6 L487.4,100.0 L487.5,98.5 L487.6,97.0 L487.8,95.5 L487.9,94.0 L488.0,92.5 L488.1,91.0 L488.2,89.5 L488.3,88.0 L488.4,86.5 L488.5,85.0 L488.7,83.5 L488.8,82.0 L488.9,80.5 L489.0,79.0 L489.1,77.5 L489.2,76.0 L489.4,74.5 L489.5,73.0 L489.6,71.5 L489.7,70.0 L489.8,68.5 L489.9,67.0 L490.0,65.5 L490.2,64.0 L490.3,62.5 L490.4,61.0 L490.5,59.5 L490.6,58.0 L490.7,56.5 L490.9,55.0 L491.0,53.5 L491.1,52.0 L491.2,50.5 L491.3,49.0 L491.4,47.5 L491.5,46.0 L491.6,44.5 L491.7,43.1 L491.9,41.6 L492.0,40.0 L492.2,38.4 L492.4,36.7 L492.6,34.9 L492.8,33.2 L493.0,31.5 L493.2,29.8 L493.4,28.1 L493.7,26.4 L493.9,24.7 L494.1,23.0 L494.2,21.2 L494.4,19.4 L494.5,17.7 L494.7,16.0 L495.1,14.5 L495.6,13.1 L496.3,11.7 L497.0,10.5 L497.7,9.6 L498.4,9.2 L499.1,9.3 L499.8,9.9 L500.5,10.8 L501.1,11.9 L501.6,13.1 L501.9,14.4 L502.1,16.0 L502.2,17.7 L502.2,19.4 L502.3,21.1 L502.5,22.7 L502.6,24.3 L502.8,25.9 L502.9,27.5 L503.1,29.0 L503.2,30.6 L503.3,32.2 L503.5,33.8 L503.6,35.4 L503.8,37.0 L503.9,38.6 L504.1,40.2 L504.2,41.8 L504.4,43.4 L504.5,45.0 L504.6,46.6 L504.7,48.2 L504.8,49.7 L504.9,51.3 L505.1,52.9 L505.2,54.4 L505.3,56.0 L505.4,57.6 L505.5,59.1 L505.6,60.7 L505.7,62.3 L505.8,63.9 L505.9,65.4 L506.1,67.0 L506.2,68.6 L506.3,70.1 L506.4,71.7 L506.5,73.3 L506.6,74.9 L506.7,76.4 L506.8,78.0 L507.0,79.6 L507.1,81.1 L507.2,82.7 L507.3,84.3 L507.4,85.9 L507.5,87.4 L507.6,89.0 L507.7,90.6 L507.8,92.1 L507.9,93.7 L508.0,95.3 L508.1,96.9 L508.3,98.5 L508.4,100.0 L508.6,101.5 L508.8,102.9 L509.0,104.3 L509.2,105.7 L509.4,107.2 L509.7,108.6 L509.9,110.0 L510.1,111.4 L510.3,112.8 L510.5,114.3 L510.7,115.9 L510.9,117.5 L511.1,119.2 L511.3,120.8 L511.5,122.5 L511.7,124.2 L511.9,125.8 L512.1,127.5 L512.3,129.1 L512.5,130.7 L512.7,132.2 L513.0,133.6 L513.3,135.0 L513.6,136.4 L513.9,137.8 L514.1,139.2 L514.3,140.5 L514.6,141.8 L514.8,143.2 L515.2,145.0 L515.7,147.1 L516.2,149.6 L516.7,152.2 L517.4,154.8 L518.0,157.2 L518.7,159.4 L519.4,161.6 L520.2,163.7 L521.0,165.7 L521.7,167.4 L522.3,168.9 L522.8,170.1 L523.4,171.2 L524.0,172.2 L524.8,173.4 L525.8,174.7 L526.9,176.2 L528.2,177.6 L529.5,179.0 L530.8,180.1 L532.2,181.0 L533.6,181.8 L535.1,182.5 L536.6,183.0 L538.1,183.5 L539.5,183.9 L541.0,184.3 L542.4,184.5 L543.9,184.6 L545.3,184.7 L546.7,184.6 L548.2,184.5 L549.6,184.3 L551.1,183.9 L552.5,183.5 L553.9,183.0 L555.4,182.4 L556.8,181.7 L558.3,180.9 L559.7,180.1 L561.2,179.1 L562.6,178.1 L564.1,176.9 L565.5,175.7 L567.0,174.6 L568.5,173.4 L569.9,172.2 L571.4,171.1 L572.8,169.9 L574.2,169.0 L575.5,168.2 L576.7,167.5 L577.9,166.9 L579.0,166.5 L580.2,166.1 L581.4,165.9 L582.6,165.8 L583.8,165.8 L585.0,165.9 L586.2,166.1 L587.4,166.4 L588.6,166.8 L589.9,167.3 L591.1,167.9 L592.3,168.5 L593.5,169.1 L594.7,169.9 L595.9,170.6 L597.1,171.4 L598.3,172.1 L599.5,172.8 L600.7,173.5 L601.9,174.2 L603.1,174.8 L604.3,175.3 L605.5,175.7 L606.7,175.9 L607.9,176.1 L609.1,176.2 L610.3,176.2 L611.5,176.1 L612.7,175.8 L613.9,175.5 L615.1,175.1 L616.3,174.6 L617.5,174.0 L618.7,173.4 L620.0,172.7 L621.2,172.0 L622.4,171.4 L623.6,170.8 L624.8,170.3 L626.0,169.7 L627.2,169.3 L628.4,169.0 L629.6,168.8 L630.8,168.7 L632.0,168.7 L633.2,168.8 L634.4,169.0 L635.6,169.3 L636.8,169.7 L638.0,170.1 L639.2,170.6 L640.4,170.9 L641.6,171.1 L642.8,171.3 L644.0,171.4 L645.2,171.5 L646.4,171.4 L647.6,171.2 L648.8,170.9 L650.0,170.4 L651.2,170.0 L652.5,169.7 L653.9,169.4 L655.3,169.1 L656.8,168.9 L658.2,168.7 L659.7,168.5 L661.2,168.4 L662.7,168.3 L664.2,168.2 L665.6,168.2 L666.9,168.1 L668.0,168.0 L669.0,167.9 L669.9,167.8 L670.7,167.7 L671.2,167.6" stroke="#0000ff" stroke-width="1.90" stroke-dasharray="2.0 2.68"/>
</g>
<rect x="390.70" y="0.40" width="293.80" height="219.00" fill="none" stroke="#1a1a1a" stroke-width="0.75"/>
<line x1="390.30" y1="0.5" x2="684.90" y2="0.5" stroke="#1a1a1a" stroke-width="1"/>
<line x1="684.5" y1="0.00" x2="684.5" y2="219.80" stroke="#1a1a1a" stroke-width="1"/>
<line x1="423.60" y1="219.40" x2="423.60" y2="221.40" stroke="#1a1a1a" stroke-width="0.75"/>
<text x="423.60" y="232.30" font-family='"Liberation Sans", sans-serif' font-size="12.50" text-anchor="middle" textLength="7.38" lengthAdjust="spacingAndGlyphs" fill="#000" stroke="#000" stroke-width="0.3">1</text>
<line x1="496.90" y1="219.40" x2="496.90" y2="221.40" stroke="#1a1a1a" stroke-width="0.75"/>
<text x="496.90" y="232.30" font-family='"Liberation Sans", sans-serif' font-size="12.50" text-anchor="middle" textLength="7.38" lengthAdjust="spacingAndGlyphs" fill="#000" stroke="#000" stroke-width="0.3">2</text>
<line x1="570.30" y1="219.40" x2="570.30" y2="221.40" stroke="#1a1a1a" stroke-width="0.75"/>
<text x="570.30" y="232.30" font-family='"Liberation Sans", sans-serif' font-size="12.50" text-anchor="middle" textLength="7.38" lengthAdjust="spacingAndGlyphs" fill="#000" stroke="#000" stroke-width="0.3">3</text>
<line x1="643.60" y1="219.40" x2="643.60" y2="221.40" stroke="#1a1a1a" stroke-width="0.75"/>
<text x="643.60" y="232.30" font-family='"Liberation Sans", sans-serif' font-size="12.50" text-anchor="middle" textLength="7.38" lengthAdjust="spacingAndGlyphs" fill="#000" stroke="#000" stroke-width="0.3">4</text>
<line x1="388.70" y1="18.10" x2="390.70" y2="18.10" stroke="#1a1a1a" stroke-width="0.75"/>
<text x="387.30" y="22.60" font-family='"Liberation Sans", sans-serif' font-size="12.50" text-anchor="end" textLength="18.44" lengthAdjust="spacingAndGlyphs" fill="#000" stroke="#000" stroke-width="0.3">1.0</text>
<line x1="388.70" y1="51.60" x2="390.70" y2="51.60" stroke="#1a1a1a" stroke-width="0.75"/>
<text x="387.30" y="56.10" font-family='"Liberation Sans", sans-serif' font-size="12.50" text-anchor="end" textLength="18.44" lengthAdjust="spacingAndGlyphs" fill="#000" stroke="#000" stroke-width="0.3">0.8</text>
<line x1="388.70" y1="85.10" x2="390.70" y2="85.10" stroke="#1a1a1a" stroke-width="0.75"/>
<text x="387.30" y="89.60" font-family='"Liberation Sans", sans-serif' font-size="12.50" text-anchor="end" textLength="18.44" lengthAdjust="spacingAndGlyphs" fill="#000" stroke="#000" stroke-width="0.3">0.6</text>
<line x1="388.70" y1="118.60" x2="390.70" y2="118.60" stroke="#1a1a1a" stroke-width="0.75"/>
<text x="387.30" y="123.10" font-family='"Liberation Sans", sans-serif' font-size="12.50" text-anchor="end" textLength="18.44" lengthAdjust="spacingAndGlyphs" fill="#000" stroke="#000" stroke-width="0.3">0.4</text>
<line x1="388.70" y1="152.10" x2="390.70" y2="152.10" stroke="#1a1a1a" stroke-width="0.75"/>
<text x="387.30" y="156.60" font-family='"Liberation Sans", sans-serif' font-size="12.50" text-anchor="end" textLength="18.44" lengthAdjust="spacingAndGlyphs" fill="#000" stroke="#000" stroke-width="0.3">0.2</text>
<line x1="388.70" y1="185.60" x2="390.70" y2="185.60" stroke="#1a1a1a" stroke-width="0.75"/>
<text x="387.30" y="190.10" font-family='"Liberation Sans", sans-serif' font-size="12.50" text-anchor="end" textLength="18.44" lengthAdjust="spacingAndGlyphs" fill="#000" stroke="#000" stroke-width="0.3">0.0</text>
<line x1="388.70" y1="219.10" x2="390.70" y2="219.10" stroke="#1a1a1a" stroke-width="0.75"/>
<text x="387.30" y="223.60" font-family='"Liberation Sans", sans-serif' font-size="12.50" text-anchor="end" textLength="28.16" lengthAdjust="spacingAndGlyphs" fill="#000" stroke="#000" stroke-width="0.3">−0.2</text>
<text x="526.90" y="245.50" font-family='"Liberation Sans", sans-serif' font-size="12.1" font-style="italic" textLength="16.6" lengthAdjust="spacingAndGlyphs" stroke="#000" stroke-width="0.12">t/T</text>
<text x="543.60" y="247.70" font-family='"Liberation Sans", sans-serif' font-size="9.8" textLength="5.2" lengthAdjust="spacingAndGlyphs" stroke="#000" stroke-width="0.2">0</text>
<text x="355.20" y="97.30" font-family='"Liberation Sans", sans-serif' font-size="9.0" font-style="italic" text-anchor="middle" stroke="#000" stroke-width="0.25">η</text>
<line x1="349.80" y1="101.30" x2="360.00" y2="101.30" stroke="#222" stroke-width="0.8"/>
<text x="353.40" y="107.90" font-family='"Liberation Sans", sans-serif' font-size="9.0" font-style="italic" text-anchor="middle" stroke="#000" stroke-width="0.25">η</text>
<text x="358.20" y="109.60" font-family='"Liberation Sans", sans-serif' font-size="6.8" text-anchor="middle">0</text>
<text x="486.30" y="274.20" font-family='"Liberation Serif", serif' font-size="17.60" text-anchor="start" textLength="61.40" lengthAdjust="spacingAndGlyphs" fill="#000">(b) WG2</text>
<clipPath id="clip_c"><rect x="52.15" y="282.65" width="293.40" height="218.85"/></clipPath>
<g clip-path="url(#clip_c)" fill="none" stroke-linejoin="round">
<path d="M64.5,469.9 L65.5,469.9 L66.9,469.9 L68.5,469.9 L70.2,469.9 L71.8,469.9 L73.2,469.9 L74.7,469.9 L76.1,469.9 L77.6,469.9 L79.1,469.9 L80.5,469.9 L82.0,469.9 L83.4,469.9 L84.9,469.9 L86.3,469.9 L87.8,469.9 L89.2,469.9 L90.7,469.9 L92.2,469.9 L93.6,469.9 L95.1,469.9 L96.5,469.9 L98.0,469.9 L99.4,469.9 L100.9,469.9 L102.3,469.9 L103.8,469.9 L105.3,469.9 L106.7,469.9 L108.2,469.9 L109.6,469.9 L111.1,469.9 L112.5,469.9 L114.0,469.9 L115.4,469.9 L116.9,469.9 L118.4,469.9 L119.8,469.9 L121.3,469.9 L122.7,469.9 L124.2,469.9 L125.6,469.9 L127.0,469.9 L128.5,469.9 L130.0,469.9 L131.7,469.9 L133.4,469.8 L135.2,469.7 L137.0,469.7 L138.8,469.6 L140.5,469.6 L142.2,469.5 L144.0,469.5 L145.7,469.4 L147.5,469.3 L149.3,469.1 L151.2,468.8 L153.0,468.5 L154.8,468.1 L156.3,467.6 L157.6,467.1 L158.7,466.5 L159.7,465.8 L160.6,465.0 L161.5,464.1 L162.5,463.1 L163.4,461.9 L164.3,460.7 L165.1,459.4 L165.9,458.0 L166.5,456.6 L167.1,455.1 L167.6,453.5 L168.0,451.9 L168.5,450.1 L169.0,448.1 L169.4,445.9 L169.9,443.7 L170.3,441.5 L170.6,439.6 L170.9,438.0 L171.0,436.5 L171.2,435.2 L171.3,433.9 L171.5,432.6 L171.7,431.2 L171.9,429.8 L172.1,428.4 L172.2,427.0 L172.4,425.6 L172.6,424.2 L172.7,422.8 L172.8,421.4 L173.0,420.0 L173.1,418.6 L173.2,417.2 L173.4,415.8 L173.5,414.4 L173.7,413.0 L173.8,411.5 L173.9,410.0 L174.1,408.4 L174.2,406.8 L174.4,405.2 L174.5,403.6 L174.6,402.1 L174.8,400.5 L174.9,398.9 L175.1,397.4 L175.2,395.8 L175.3,394.2 L175.5,392.6 L175.6,391.1 L175.8,389.5 L175.9,387.9 L176.1,386.2 L176.2,384.4 L176.4,382.6 L176.5,381.1 L176.6,380.0 L179.4,295.5 L184.2,295.5 L185.4,297.8 L190.3,353.6 L190.5,354.8 L190.8,356.5 L191.1,358.5 L191.4,360.5 L191.7,362.4 L192.0,364.2 L192.3,365.9 L192.5,367.7 L192.8,369.4 L193.1,371.2 L193.4,372.9 L193.6,374.6 L193.9,376.4 L194.2,378.1 L194.5,380.0 L194.8,382.0 L195.1,384.1 L195.4,386.2 L195.8,388.4 L196.2,390.5 L196.6,392.6 L197.1,394.7 L197.6,396.8 L198.1,398.9 L198.7,401.0 L199.3,403.1 L199.9,405.3 L200.5,407.4 L201.1,409.5 L201.8,411.5 L202.5,413.4 L203.2,415.2 L203.9,416.9 L204.6,418.6 L205.3,420.3 L205.9,422.0 L206.5,423.6 L207.1,425.1 L207.7,426.8 L208.5,428.5 L209.4,430.4 L210.5,432.4 L211.6,434.5 L212.8,436.4 L213.9,438.1 L214.9,439.6 L216.0,440.9 L217.0,442.0 L218.1,443.0 L219.2,443.9 L220.4,444.6 L221.6,445.2 L222.8,445.6 L224.2,445.9 L225.6,446.2 L227.2,446.3 L228.8,446.3 L230.6,446.3 L232.4,446.2 L234.1,446.2 L235.8,446.3 L237.5,446.4 L239.3,446.5 L241.0,446.7 L242.6,446.9 L244.2,447.1 L245.8,447.3 L247.3,447.5 L248.8,447.9 L250.1,448.3 L251.3,448.9 L252.4,449.5 L253.4,450.3 L254.4,451.1 L255.4,452.0 L256.5,453.1 L257.5,454.3 L258.6,455.6 L259.6,456.8 L260.7,457.9 L261.8,458.8 L262.8,459.7 L263.9,460.4 L265.0,461.1 L266.1,461.6 L267.3,462.0 L268.6,462.2 L269.9,462.4 L271.2,462.5 L272.5,462.6 L273.8,462.7 L275.1,462.8 L276.4,462.8 L277.7,462.7 L278.9,462.6 L280.0,462.4 L281.1,462.2 L282.1,461.9 L283.2,461.5 L284.2,460.9 L285.3,460.2 L286.3,459.3 L287.4,458.3 L288.4,457.2 L289.5,456.2 L290.6,455.2 L291.6,454.1 L292.7,453.0 L293.7,451.9 L294.8,450.9 L295.9,449.9 L297.0,449.0 L298.0,448.1 L299.1,447.3 L300.2,446.6 L301.3,446.0 L302.3,445.5 L303.4,445.1 L304.4,444.7 L305.5,444.5 L306.6,444.4 L307.6,444.3 L308.7,444.4 L309.7,444.6 L310.8,444.9 L311.9,445.4 L313.0,446.1 L314.0,447.0 L315.1,447.9 L316.2,448.8 L317.3,449.8 L318.3,450.9 L319.4,452.1 L320.4,453.2 L321.5,454.1 L322.6,454.9 L323.6,455.6 L324.6,456.2 L325.7,456.8 L326.8,457.3 L328.0,457.8 L329.4,458.3 L330.7,458.8 L331.8,459.1 L332.6,459.4" stroke="#ff0000" stroke-width="1.90"/>
<path d="M67.5,467.9 L68.6,467.9 L70.1,467.9 L71.8,467.9 L73.6,467.9 L75.3,467.9 L76.9,467.9 L78.4,467.8 L80.0,467.8 L81.6,467.8 L83.1,467.8 L84.7,467.8 L86.2,467.8 L87.8,467.8 L89.4,467.8 L90.9,467.8 L92.5,467.8 L94.1,467.8 L95.6,467.8 L97.2,467.8 L98.8,467.8 L100.3,467.7 L101.9,467.7 L103.4,467.7 L105.0,467.7 L106.6,467.7 L108.1,467.7 L109.7,467.7 L111.2,467.7 L112.8,467.7 L114.4,467.7 L115.9,467.7 L117.5,467.7 L119.1,467.7 L120.6,467.6 L122.2,467.6 L123.7,467.6 L125.2,467.6 L126.7,467.6 L128.3,467.6 L130.0,467.6 L131.9,467.5 L134.0,467.4 L136.2,467.3 L138.4,467.2 L140.5,467.1 L142.7,467.0 L144.9,466.9 L147.1,466.8 L149.1,466.6 L151.0,466.4 L152.7,466.1 L154.1,465.7 L155.5,465.3 L156.8,464.8 L158.0,464.1 L159.2,463.3 L160.3,462.3 L161.4,461.2 L162.4,460.1 L163.3,458.8 L164.1,457.5 L164.9,456.0 L165.6,454.5 L166.2,452.8 L166.8,451.0 L167.4,448.9 L168.0,446.5 L168.5,444.0 L169.0,441.7 L169.4,439.6 L169.7,437.9 L169.9,436.5 L170.1,435.2 L170.3,433.9 L170.4,432.6 L170.7,431.2 L170.9,429.8 L171.1,428.5 L171.3,427.1 L171.5,425.6 L171.7,424.1 L171.9,422.5 L172.0,420.9 L172.2,419.3 L172.4,417.7 L172.6,416.1 L172.8,414.5 L173.0,413.0 L173.1,411.4 L173.3,409.8 L173.5,408.2 L173.6,406.6 L173.8,405.1 L173.9,403.5 L174.1,401.9 L174.2,400.3 L174.4,398.7 L174.5,397.1 L174.7,395.5 L174.8,394.0 L174.9,392.5 L175.1,391.1 L175.2,389.8 L175.3,388.4 L175.4,387.0 L175.6,385.6 L175.7,384.2 L175.9,382.8 L176.0,381.4 L176.1,380.0 L176.2,378.6 L176.3,377.2 L176.3,375.8 L176.4,374.4 L176.5,373.0 L176.6,371.6 L176.6,370.2 L176.7,368.8 L176.8,367.4 L176.9,366.0 L176.9,364.6 L177.0,363.2 L177.1,361.8 L177.2,360.4 L177.2,359.0 L177.3,357.6 L177.4,356.2 L177.5,354.8 L177.5,353.4 L177.6,352.0 L177.7,350.6 L177.8,349.2 L177.8,347.8 L177.9,346.4 L178.0,345.0 L178.1,343.5 L178.2,342.1 L178.4,340.6 L178.5,339.1 L178.6,337.6 L178.8,336.1 L178.9,334.6 L179.0,333.2 L179.2,331.7 L179.3,330.2 L179.4,328.7 L179.5,327.2 L179.7,325.8 L179.8,324.3 L179.9,322.8 L180.0,321.3 L180.2,319.8 L180.3,318.4 L180.4,316.9 L180.6,315.4 L180.6,314.0 L180.7,312.7 L180.7,311.4 L180.9,309.8 L181.2,308.0 L181.7,305.4 L182.5,302.2 L183.3,299.0 L184.0,296.4 L184.7,295.0 L185.2,295.2 L185.7,296.7 L186.1,298.7 L186.5,301.0 L186.8,302.8 L187.0,304.3 L187.1,305.7 L187.2,307.1 L187.3,308.4 L187.4,309.8 L187.5,311.2 L187.6,312.7 L187.7,314.1 L187.8,315.5 L188.0,316.9 L188.1,318.3 L188.2,319.7 L188.3,321.1 L188.4,322.5 L188.5,323.9 L188.7,325.3 L188.8,326.7 L188.9,328.1 L189.0,329.6 L189.1,331.0 L189.2,332.4 L189.3,333.8 L189.4,335.2 L189.6,336.6 L189.7,338.0 L189.9,339.4 L190.0,340.8 L190.2,342.2 L190.4,343.6 L190.5,345.0 L190.7,346.4 L190.9,347.8 L191.1,349.2 L191.2,350.6 L191.4,352.0 L191.6,353.4 L191.7,354.8 L191.9,356.2 L192.1,357.6 L192.2,359.0 L192.4,360.4 L192.6,361.8 L192.8,363.2 L192.9,364.6 L193.1,366.0 L193.3,367.4 L193.4,368.8 L193.6,370.2 L193.8,371.6 L194.0,373.0 L194.1,374.3 L194.2,375.5 L194.3,376.8 L194.5,378.2 L194.8,380.0 L195.2,382.3 L195.8,384.9 L196.3,387.7 L196.9,390.5 L197.5,393.1 L198.0,395.5 L198.5,397.7 L199.0,400.0 L199.5,402.2 L200.1,404.5 L200.7,406.9 L201.4,409.4 L202.2,412.0 L202.9,414.4 L203.6,416.8 L204.3,419.0 L205.0,421.1 L205.6,423.1 L206.3,425.2 L207.1,427.3 L207.9,429.6 L208.8,431.9 L209.7,434.3 L210.6,436.6 L211.5,438.7 L212.3,440.7 L213.2,442.5 L214.0,444.3 L214.9,446.0 L216.0,447.7 L217.3,449.4 L218.7,451.1 L220.2,452.8 L221.8,454.3 L223.4,455.8 L225.0,457.1 L226.8,458.4 L228.5,459.6 L230.3,460.6 L232.0,461.6 L233.7,462.4 L235.4,463.1 L237.1,463.7 L238.8,464.3 L240.5,464.8 L242.2,465.3 L243.9,465.7 L245.6,466.0 L247.3,466.4 L249.0,466.9 L250.7,467.5 L252.5,468.2 L254.3,468.9 L255.9,469.6 L257.5,470.1 L258.9,470.5 L260.2,470.9 L261.4,471.2 L262.7,471.4 L263.9,471.6 L265.2,471.7 L266.5,471.7 L267.7,471.6 L269.0,471.5 L270.3,471.2 L271.6,470.9 L272.9,470.4 L274.1,469.9 L275.4,469.3 L276.7,468.6 L278.0,467.8 L279.3,466.9 L280.6,465.9 L281.9,464.8 L283.1,463.7 L284.2,462.5 L285.3,461.1 L286.4,459.8 L287.4,458.5 L288.4,457.3 L289.3,456.3 L290.2,455.3 L291.0,454.4 L291.9,453.7 L292.7,453.0 L293.6,452.4 L294.4,452.0 L295.3,451.6 L296.1,451.4 L297.0,451.3 L297.8,451.4 L298.6,451.5 L299.4,451.9 L300.3,452.3 L301.2,453.0 L302.2,453.9 L303.3,455.1 L304.4,456.4 L305.5,457.7 L306.6,458.8 L307.7,459.8 L308.7,460.7 L309.8,461.6 L310.8,462.4 L311.9,463.1 L313.0,463.8 L314.0,464.4 L315.1,465.0 L316.1,465.4 L317.2,465.8 L318.3,466.1 L319.3,466.2 L320.4,466.3 L321.4,466.3 L322.5,466.2 L323.6,466.0 L324.8,465.8 L325.9,465.5 L327.0,465.1 L327.9,464.8 L328.6,464.5 L329.2,464.1 L329.7,463.8 L330.1,463.5 L330.4,463.3" stroke="#008000" stroke-width="1.90" stroke-dasharray="11.5 2.6 2.0 2.56"/>
<path d="M66.6,466.1 L67.6,466.1 L68.9,466.1 L70.5,466.1 L72.1,466.1 L73.6,466.1 L75.1,466.1 L76.5,466.1 L77.9,466.1 L79.3,466.1 L80.7,466.1 L82.1,466.1 L83.5,466.1 L84.9,466.1 L86.3,466.1 L87.7,466.1 L89.1,466.1 L90.6,466.1 L92.0,466.1 L93.4,466.1 L94.8,466.1 L96.2,466.1 L97.6,466.1 L99.0,466.1 L100.4,466.1 L101.8,466.1 L103.2,466.1 L104.6,466.1 L106.0,466.1 L107.5,466.1 L108.9,466.1 L110.3,466.1 L111.7,466.1 L113.1,466.1 L114.5,466.1 L115.9,466.1 L117.3,466.1 L118.7,466.1 L120.1,466.1 L121.5,466.1 L123.0,466.1 L124.3,466.1 L125.6,466.1 L126.9,466.1 L128.4,466.1 L130.0,466.1 L131.9,466.1 L134.0,466.1 L136.3,466.0 L138.5,466.0 L140.5,465.8 L142.4,465.6 L144.2,465.2 L146.0,464.9 L147.7,464.5 L149.3,464.1 L150.8,463.8 L152.3,463.4 L153.7,463.1 L155.0,462.6 L156.3,462.0 L157.5,461.2 L158.6,460.3 L159.6,459.3 L160.6,458.3 L161.5,457.1 L162.3,455.9 L163.1,454.6 L163.7,453.3 L164.4,451.8 L165.0,450.1 L165.6,448.2 L166.2,446.0 L166.8,443.7 L167.3,441.5 L167.7,439.6 L168.0,438.0 L168.3,436.5 L168.4,435.2 L168.6,433.9 L168.8,432.6 L169.0,431.2 L169.2,429.8 L169.5,428.5 L169.7,427.1 L169.9,425.6 L170.1,424.1 L170.3,422.5 L170.4,420.9 L170.6,419.3 L170.8,417.7 L171.0,416.1 L171.2,414.5 L171.3,412.9 L171.5,411.3 L171.7,409.8 L171.9,408.3 L172.0,406.9 L172.2,405.6 L172.3,404.2 L172.5,402.8 L172.7,401.4 L172.8,400.0 L173.0,398.7 L173.1,397.3 L173.3,395.8 L173.5,394.3 L173.7,392.7 L173.9,391.1 L174.1,389.5 L174.2,387.9 L174.4,386.3 L174.7,384.7 L174.9,383.2 L175.0,381.6 L175.2,380.0 L175.3,378.4 L175.4,376.8 L175.5,375.2 L175.6,373.6 L175.6,372.0 L175.7,370.4 L175.8,368.8 L175.9,367.2 L176.0,365.6 L176.1,364.0 L176.2,362.4 L176.3,360.8 L176.3,359.2 L176.4,357.6 L176.5,356.0 L176.6,354.4 L176.7,352.8 L176.8,351.2 L176.9,349.6 L177.0,348.0 L177.0,346.4 L177.1,344.8 L177.2,343.1 L177.3,341.5 L177.4,340.0 L177.5,338.5 L177.6,337.1 L177.7,335.8 L177.8,334.4 L178.0,333.0 L178.1,331.6 L178.2,330.2 L178.3,328.8 L178.4,327.4 L178.5,326.0 L178.6,324.6 L178.7,323.2 L178.9,321.8 L179.0,320.4 L179.1,319.0 L179.2,317.6 L179.3,316.2 L179.4,314.8 L179.5,313.4 L179.6,312.0 L179.7,310.7 L179.7,309.4 L179.8,308.1 L179.9,306.7 L180.2,305.0 L180.7,302.7 L181.4,299.8 L182.1,296.8 L182.9,294.5 L183.6,293.3 L184.2,293.5 L184.9,294.8 L185.5,296.6 L186.0,298.7 L186.4,300.5 L186.7,302.1 L186.8,303.8 L186.9,305.6 L187.0,307.4 L187.1,309.1 L187.3,310.9 L187.4,312.6 L187.6,314.3 L187.7,316.0 L187.9,317.8 L188.0,319.5 L188.1,321.2 L188.3,322.9 L188.4,324.6 L188.6,326.4 L188.7,328.1 L188.9,329.9 L189.0,331.6 L189.1,333.3 L189.3,335.0 L189.5,336.6 L189.7,338.1 L189.9,339.6 L190.1,341.0 L190.2,342.5 L190.4,344.0 L190.6,345.5 L190.8,347.0 L191.0,348.5 L191.2,350.0 L191.4,351.5 L191.6,353.0 L191.8,354.5 L192.0,356.0 L192.2,357.5 L192.3,359.0 L192.5,360.5 L192.7,362.0 L192.9,363.5 L193.1,365.0 L193.3,366.5 L193.5,368.0 L193.7,369.5 L193.9,371.0 L194.1,372.5 L194.2,373.9 L194.3,375.3 L194.5,376.7 L194.7,378.2 L195.0,380.0 L195.5,382.2 L196.1,384.6 L196.7,387.2 L197.4,389.8 L198.0,392.3 L198.6,394.7 L199.2,397.2 L199.8,399.6 L200.4,402.1 L201.0,404.5 L201.7,407.0 L202.4,409.5 L203.1,412.0 L203.8,414.5 L204.5,416.8 L205.2,419.0 L205.9,421.1 L206.5,423.1 L207.2,425.2 L208.0,427.3 L208.8,429.6 L209.7,432.0 L210.6,434.3 L211.5,436.6 L212.3,438.7 L213.0,440.5 L213.6,442.1 L214.3,443.6 L215.0,445.0 L216.0,446.6 L217.2,448.3 L218.6,450.1 L220.2,451.9 L221.8,453.6 L223.4,455.2 L225.0,456.7 L226.8,458.1 L228.5,459.4 L230.3,460.6 L232.0,461.6 L233.7,462.5 L235.5,463.3 L237.2,463.9 L238.9,464.4 L240.5,464.8 L242.1,465.1 L243.6,465.2 L245.1,465.2 L246.5,465.1 L248.0,464.8 L249.5,464.4 L251.0,463.8 L252.4,463.1 L253.9,462.4 L255.4,461.6 L256.9,460.8 L258.4,460.0 L259.9,459.1 L261.4,458.2 L262.9,457.3 L264.4,456.3 L265.9,455.3 L267.3,454.2 L268.8,453.1 L270.3,452.0 L271.8,450.9 L273.3,449.7 L274.9,448.6 L276.4,447.5 L277.8,446.6 L279.2,445.9 L280.5,445.3 L281.8,444.8 L283.0,444.4 L284.2,444.1 L285.3,443.9 L286.3,443.8 L287.4,443.8 L288.4,443.9 L289.5,444.1 L290.7,444.4 L292.0,444.8 L293.3,445.4 L294.6,445.9 L295.9,446.6 L297.2,447.4 L298.5,448.2 L299.7,449.1 L301.0,450.1 L302.3,450.9 L303.6,451.7 L304.9,452.5 L306.2,453.3 L307.5,454.0 L308.7,454.5 L309.8,454.9 L310.9,455.1 L311.9,455.3 L313.0,455.3 L314.0,455.2 L315.1,455.0 L316.1,454.6 L317.2,454.1 L318.3,453.6 L319.4,453.0 L320.6,452.4 L321.8,451.8 L323.1,451.1 L324.4,450.4 L325.7,449.8 L327.2,449.2 L328.7,448.6 L330.3,448.1 L331.7,447.6 L332.6,447.3" stroke="#0000ff" stroke-width="1.90" stroke-dasharray="2.0 2.68"/>
</g>
<rect x="52.15" y="282.65" width="293.40" height="218.85" fill="none" stroke="#1a1a1a" stroke-width="0.75"/>
<line x1="85.30" y1="501.50" x2="85.30" y2="503.50" stroke="#1a1a1a" stroke-width="0.75"/>
<text x="85.30" y="514.40" font-family='"Liberation Sans", sans-serif' font-size="12.50" text-anchor="middle" textLength="7.38" lengthAdjust="spacingAndGlyphs" fill="#000" stroke="#000" stroke-width="0.3">1</text>
<line x1="158.80" y1="501.50" x2="158.80" y2="503.50" stroke="#1a1a1a" stroke-width="0.75"/>
<text x="158.80" y="514.40" font-family='"Liberation Sans", sans-serif' font-size="12.50" text-anchor="middle" textLength="7.38" lengthAdjust="spacingAndGlyphs" fill="#000" stroke="#000" stroke-width="0.3">2</text>
<line x1="232.40" y1="501.50" x2="232.40" y2="503.50" stroke="#1a1a1a" stroke-width="0.75"/>
<text x="232.40" y="514.40" font-family='"Liberation Sans", sans-serif' font-size="12.50" text-anchor="middle" textLength="7.38" lengthAdjust="spacingAndGlyphs" fill="#000" stroke="#000" stroke-width="0.3">3</text>
<line x1="305.90" y1="501.50" x2="305.90" y2="503.50" stroke="#1a1a1a" stroke-width="0.75"/>
<text x="305.90" y="514.40" font-family='"Liberation Sans", sans-serif' font-size="12.50" text-anchor="middle" textLength="7.38" lengthAdjust="spacingAndGlyphs" fill="#000" stroke="#000" stroke-width="0.3">4</text>
<line x1="50.15" y1="294.70" x2="52.15" y2="294.70" stroke="#1a1a1a" stroke-width="0.75"/>
<text x="48.75" y="299.20" font-family='"Liberation Sans", sans-serif' font-size="12.50" text-anchor="end" textLength="18.44" lengthAdjust="spacingAndGlyphs" fill="#000" stroke="#000" stroke-width="0.3">1.0</text>
<line x1="50.15" y1="329.20" x2="52.15" y2="329.20" stroke="#1a1a1a" stroke-width="0.75"/>
<text x="48.75" y="333.70" font-family='"Liberation Sans", sans-serif' font-size="12.50" text-anchor="end" textLength="18.44" lengthAdjust="spacingAndGlyphs" fill="#000" stroke="#000" stroke-width="0.3">0.8</text>
<line x1="50.15" y1="363.70" x2="52.15" y2="363.70" stroke="#1a1a1a" stroke-width="0.75"/>
<text x="48.75" y="368.20" font-family='"Liberation Sans", sans-serif' font-size="12.50" text-anchor="end" textLength="18.44" lengthAdjust="spacingAndGlyphs" fill="#000" stroke="#000" stroke-width="0.3">0.6</text>
<line x1="50.15" y1="398.30" x2="52.15" y2="398.30" stroke="#1a1a1a" stroke-width="0.75"/>
<text x="48.75" y="402.80" font-family='"Liberation Sans", sans-serif' font-size="12.50" text-anchor="end" textLength="18.44" lengthAdjust="spacingAndGlyphs" fill="#000" stroke="#000" stroke-width="0.3">0.4</text>
<line x1="50.15" y1="432.80" x2="52.15" y2="432.80" stroke="#1a1a1a" stroke-width="0.75"/>
<text x="48.75" y="437.30" font-family='"Liberation Sans", sans-serif' font-size="12.50" text-anchor="end" textLength="18.44" lengthAdjust="spacingAndGlyphs" fill="#000" stroke="#000" stroke-width="0.3">0.2</text>
<line x1="50.15" y1="467.30" x2="52.15" y2="467.30" stroke="#1a1a1a" stroke-width="0.75"/>
<text x="48.75" y="471.80" font-family='"Liberation Sans", sans-serif' font-size="12.50" text-anchor="end" textLength="18.44" lengthAdjust="spacingAndGlyphs" fill="#000" stroke="#000" stroke-width="0.3">0.0</text>
<line x1="50.15" y1="501.50" x2="52.15" y2="501.50" stroke="#1a1a1a" stroke-width="0.75"/>
<text x="48.75" y="506.00" font-family='"Liberation Sans", sans-serif' font-size="12.50" text-anchor="end" textLength="28.16" lengthAdjust="spacingAndGlyphs" fill="#000" stroke="#000" stroke-width="0.3">−0.2</text>
<text x="187.90" y="528.00" font-family='"Liberation Sans", sans-serif' font-size="12.1" font-style="italic" textLength="16.6" lengthAdjust="spacingAndGlyphs" stroke="#000" stroke-width="0.12">t/T</text>
<text x="204.60" y="530.20" font-family='"Liberation Sans", sans-serif' font-size="9.8" textLength="5.2" lengthAdjust="spacingAndGlyphs" stroke="#000" stroke-width="0.2">0</text>
<text x="16.50" y="379.60" font-family='"Liberation Sans", sans-serif' font-size="9.0" font-style="italic" text-anchor="middle" stroke="#000" stroke-width="0.25">η</text>
<line x1="11.10" y1="383.60" x2="21.30" y2="383.60" stroke="#222" stroke-width="0.8"/>
<text x="14.70" y="390.20" font-family='"Liberation Sans", sans-serif' font-size="9.0" font-style="italic" text-anchor="middle" stroke="#000" stroke-width="0.25">η</text>
<text x="19.50" y="391.90" font-family='"Liberation Sans", sans-serif' font-size="6.8" text-anchor="middle">0</text>
<text x="148.40" y="556.70" font-family='"Liberation Serif", serif' font-size="17.60" text-anchor="start" textLength="59.90" lengthAdjust="spacingAndGlyphs" fill="#000">(c) WG3</text>
<clipPath id="clip_d"><rect x="390.70" y="282.65" width="293.80" height="218.85"/></clipPath>
<g clip-path="url(#clip_d)" fill="none" stroke-linejoin="round">
<path d="M403.2,465.4 L404.2,465.4 L405.6,465.4 L407.2,465.4 L408.9,465.4 L410.5,465.4 L412.0,465.4 L413.4,465.4 L414.9,465.4 L416.3,465.4 L417.8,465.4 L419.2,465.4 L420.7,465.4 L422.2,465.4 L423.6,465.4 L425.1,465.4 L426.5,465.4 L428.0,465.4 L429.5,465.4 L430.9,465.4 L432.4,465.4 L433.8,465.4 L435.3,465.4 L436.8,465.4 L438.2,465.4 L439.7,465.4 L441.1,465.4 L442.6,465.4 L444.0,465.4 L445.5,465.4 L447.0,465.4 L448.4,465.4 L449.9,465.4 L451.3,465.4 L452.8,465.4 L454.3,465.4 L455.7,465.4 L457.2,465.4 L458.6,465.4 L460.1,465.4 L461.6,465.4 L463.0,465.4 L464.5,465.4 L465.9,465.4 L467.4,465.4 L468.9,465.4 L470.3,465.5 L471.8,465.5 L473.2,465.5 L474.7,465.5 L476.1,465.5 L477.6,465.5 L479.1,465.5 L480.5,465.5 L482.0,465.5 L483.4,465.5 L484.9,465.5 L486.4,465.5 L487.8,465.5 L489.3,465.5 L490.7,465.5 L492.2,465.5 L493.7,465.5 L495.1,465.5 L496.6,465.5 L498.0,465.5 L499.5,465.5 L500.9,465.5 L502.4,465.5 L503.9,465.5 L505.3,465.5 L506.8,465.5 L508.2,465.5 L509.7,465.5 L511.2,465.5 L512.6,465.5 L514.1,465.5 L515.5,465.5 L517.0,465.5 L518.5,465.5 L519.9,465.5 L521.4,465.5 L522.8,465.5 L524.3,465.5 L525.7,465.5 L527.2,465.5 L528.7,465.6 L530.3,465.7 L531.8,465.8 L533.2,465.7 L534.5,465.5 L535.6,465.1 L536.6,464.6 L537.4,463.9 L538.2,463.1 L538.8,461.9 L539.3,460.2 L539.7,458.0 L540.1,455.7 L540.3,453.7 L540.5,452.3 L540.5,451.2 L540.6,449.7 L540.6,447.9 L540.6,446.0 L540.7,444.3 L540.7,442.7 L540.7,441.1 L540.8,439.4 L540.8,437.8 L540.8,436.2 L540.9,434.6 L540.9,433.0 L540.9,431.4 L541.0,429.8 L541.0,428.2 L541.0,426.6 L541.0,425.0 L541.0,423.4 L541.0,421.8 L541.0,420.2 L541.0,418.6 L541.0,417.0 L541.0,415.3 L541.0,413.7 L541.0,412.1 L541.0,410.5 L541.0,408.9 L541.0,407.3 L541.0,405.7 L541.0,404.1 L541.0,402.5 L541.0,400.9 L541.0,399.3 L541.0,397.7 L541.0,396.1 L541.0,394.5 L541.0,392.9 L541.0,391.2 L541.0,389.6 L541.0,388.0 L541.0,386.4 L541.0,384.8 L541.0,383.2 L541.0,381.6 L541.0,380.0 L541.0,378.5 L541.0,377.0 L541.0,375.5 L541.0,374.0 L541.0,372.5 L541.0,371.0 L541.0,369.5 L541.0,368.0 L541.0,366.5 L541.0,365.0 L541.0,363.5 L541.0,362.0 L541.0,360.5 L541.0,359.0 L541.0,357.5 L541.0,356.0 L541.0,354.5 L541.0,353.0 L541.0,351.5 L541.0,350.0 L541.0,348.5 L541.0,347.0 L541.0,345.5 L541.0,344.0 L541.0,342.5 L541.0,341.0 L541.0,339.5 L540.9,338.0 L540.9,336.5 L540.9,335.0 L540.9,333.5 L540.9,332.0 L540.9,330.5 L540.9,329.0 L540.9,327.5 L540.9,326.0 L540.9,324.5 L540.9,323.0 L540.9,321.5 L540.9,320.0 L540.9,318.5 L540.9,317.0 L540.9,315.5 L540.9,314.0 L540.9,312.5 L540.9,311.0 L540.9,309.5 L540.9,308.0 L540.9,306.5 L540.9,305.0 L540.9,303.4 L540.9,301.6 L540.9,300.0 L540.9,298.5 L540.9,297.5 L541.1,297.0 L541.4,296.1 L541.7,295.3 L542.0,294.7 L542.3,294.6 L542.6,295.1 L542.9,296.0 L543.2,297.2 L543.5,298.7 L543.8,300.4 L544.1,302.4 L544.4,304.8 L544.7,307.4 L545.0,309.9 L545.3,312.1 L545.5,313.9 L545.8,315.6 L546.0,317.1 L546.1,318.6 L546.3,320.1 L546.6,321.8 L546.7,323.4 L546.9,325.0 L547.2,326.6 L547.4,328.2 L547.7,329.8 L548.0,331.4 L548.3,333.0 L548.6,334.6 L548.9,336.2 L549.2,337.7 L549.4,339.2 L549.6,340.6 L550.0,342.3 L550.4,344.2 L551.0,346.5 L551.7,349.2 L552.4,352.0 L553.2,354.8 L554.0,357.4 L554.8,359.8 L555.6,362.2 L556.5,364.5 L557.4,366.8 L558.4,369.1 L559.5,371.4 L560.6,373.8 L561.8,376.1 L563.0,378.4 L564.2,380.7 L565.5,383.1 L566.8,385.5 L568.1,387.9 L569.4,390.1 L570.6,392.0 L571.7,393.5 L572.6,394.6 L573.6,395.6 L574.5,396.5 L575.4,397.4 L576.3,398.6 L577.3,399.7 L578.2,400.8 L579.2,401.9 L580.2,402.9 L581.3,403.8 L582.5,404.7 L583.8,405.5 L585.0,406.3 L586.2,407.1 L587.4,407.9 L588.4,408.7 L589.5,409.4 L590.7,410.3 L592.3,411.3 L594.4,412.5 L596.8,413.8 L599.5,415.3 L602.0,416.7 L604.3,418.1 L606.2,419.4 L607.9,420.8 L609.5,422.1 L611.1,423.4 L612.7,424.6 L614.4,425.7 L616.0,426.7 L617.7,427.7 L619.4,428.6 L621.2,429.4 L623.0,430.1 L625.0,430.7 L626.9,431.2 L628.9,431.8 L630.8,432.5 L632.7,433.4 L634.6,434.4 L636.6,435.4 L638.5,436.6 L640.4,437.8 L642.3,439.1 L644.3,440.5 L646.2,442.0 L648.2,443.5 L650.1,445.0 L652.1,446.6 L654.1,448.2 L656.1,449.8 L658.0,451.4 L659.7,452.7 L661.1,453.8 L662.4,454.8 L663.5,455.6 L664.6,456.4 L665.7,457.3 L667.0,458.3 L668.4,459.4 L669.7,460.4 L670.9,461.3 L671.7,461.9" stroke="#ff0000" stroke-width="1.90"/>
<path d="M409.2,462.4 L410.2,462.4 L411.6,462.4 L413.3,462.4 L415.0,462.4 L416.6,462.4 L418.0,462.4 L419.5,462.4 L421.0,462.4 L422.5,462.3 L423.9,462.3 L425.4,462.3 L426.9,462.3 L428.4,462.3 L429.8,462.3 L431.3,462.3 L432.8,462.3 L434.3,462.3 L435.7,462.3 L437.2,462.3 L438.7,462.3 L440.2,462.3 L441.6,462.3 L443.1,462.3 L444.6,462.3 L446.1,462.3 L447.5,462.2 L449.0,462.2 L450.5,462.2 L451.9,462.2 L453.4,462.2 L454.9,462.2 L456.4,462.2 L457.8,462.2 L459.3,462.2 L460.8,462.2 L462.3,462.2 L463.7,462.2 L465.2,462.2 L466.7,462.2 L468.2,462.2 L469.6,462.2 L471.1,462.2 L472.6,462.1 L474.1,462.1 L475.5,462.1 L477.0,462.1 L478.5,462.1 L480.0,462.1 L481.4,462.1 L482.9,462.1 L484.4,462.1 L485.9,462.1 L487.3,462.1 L488.8,462.1 L490.3,462.1 L491.8,462.1 L493.2,462.1 L494.7,462.1 L496.2,462.1 L497.6,462.0 L499.1,462.0 L500.6,462.0 L502.1,462.0 L503.5,462.0 L505.0,462.0 L506.5,462.0 L508.0,462.0 L509.4,462.0 L510.9,462.0 L512.4,462.0 L513.9,462.0 L515.3,462.0 L516.8,462.0 L518.3,462.0 L519.8,462.0 L521.2,462.0 L522.7,461.9 L524.2,461.9 L525.7,461.9 L527.1,461.9 L528.6,462.0 L530.2,462.0 L531.7,462.1 L533.2,462.1 L534.5,461.9 L535.7,461.7 L536.7,461.4 L537.6,461.0 L538.5,460.4 L539.3,459.5 L540.0,458.1 L540.7,456.1 L541.3,454.1 L541.8,452.3 L542.2,451.0 L542.3,450.0 L542.4,448.5 L542.5,446.8 L542.6,445.0 L542.7,443.4 L542.8,441.9 L542.9,440.4 L542.9,438.8 L543.0,437.3 L543.1,435.8 L543.2,434.3 L543.3,432.8 L543.4,431.3 L543.5,429.7 L543.6,428.2 L543.6,426.6 L543.6,425.0 L543.7,423.4 L543.6,421.8 L543.6,420.2 L543.7,418.6 L543.7,417.0 L543.7,415.3 L543.7,413.7 L543.7,412.1 L543.7,410.5 L543.7,408.9 L543.7,407.3 L543.7,405.7 L543.8,404.1 L543.8,402.5 L543.8,400.9 L543.8,399.3 L543.8,397.7 L543.8,396.1 L543.8,394.5 L543.8,392.9 L543.8,391.2 L543.8,389.6 L543.9,388.0 L543.9,386.4 L543.9,384.8 L543.9,383.2 L543.9,381.6 L543.9,380.0 L543.9,378.4 L543.9,376.9 L543.9,375.4 L543.9,373.9 L543.9,372.3 L543.9,370.8 L543.9,369.3 L543.9,367.7 L544.0,366.2 L544.0,364.7 L544.0,363.1 L544.0,361.6 L544.0,360.1 L544.0,358.6 L544.0,357.0 L544.0,355.5 L544.0,354.0 L544.0,352.4 L544.0,350.9 L544.0,349.4 L544.0,347.8 L544.0,346.3 L544.0,344.8 L544.0,343.2 L544.0,341.7 L544.1,340.2 L544.1,338.6 L544.1,337.1 L544.1,335.6 L544.1,334.0 L544.1,332.5 L544.1,331.0 L544.1,329.4 L544.1,327.9 L544.1,326.4 L544.1,324.8 L544.1,323.3 L544.1,321.8 L544.1,320.3 L544.1,318.7 L544.1,317.2 L544.2,315.7 L544.2,314.1 L544.2,312.6 L544.2,311.1 L544.2,309.4 L544.2,307.6 L544.2,305.9 L544.2,304.4 L544.2,303.4 L544.5,302.0 L544.8,300.0 L545.2,297.8 L545.6,296.0 L546.0,295.3 L546.3,295.9 L546.6,297.4 L546.9,299.4 L547.1,301.6 L547.4,303.4 L547.6,304.9 L547.9,306.4 L548.1,307.8 L548.3,309.3 L548.5,310.7 L548.7,312.1 L548.9,313.6 L549.2,315.0 L549.4,316.5 L549.6,318.0 L549.8,319.6 L550.0,321.1 L550.3,322.8 L550.5,324.4 L550.7,326.0 L550.9,327.6 L551.1,329.2 L551.3,330.8 L551.6,332.4 L551.8,334.0 L552.1,335.6 L552.4,337.2 L552.7,338.8 L553.0,340.4 L553.2,342.1 L553.5,343.7 L553.8,345.3 L554.1,346.9 L554.4,348.5 L554.7,350.1 L555.0,351.6 L555.4,353.1 L555.8,354.5 L556.2,356.0 L556.5,357.4 L556.9,358.8 L557.2,360.0 L557.5,361.4 L557.9,362.9 L558.4,364.7 L559.1,367.0 L559.9,369.6 L560.9,372.4 L561.8,375.2 L562.8,377.8 L563.8,380.3 L564.8,382.7 L565.8,385.0 L566.9,387.3 L567.9,389.5 L568.9,391.5 L569.8,393.4 L570.8,395.3 L571.8,397.1 L573.0,399.0 L574.3,401.0 L575.8,403.1 L577.3,405.2 L578.8,407.2 L580.2,408.9 L581.5,410.3 L582.7,411.6 L583.9,412.7 L585.1,413.8 L586.2,414.9 L587.5,416.1 L588.7,417.3 L589.9,418.5 L591.1,419.7 L592.3,420.9 L593.5,422.0 L594.7,423.1 L595.9,424.2 L597.1,425.3 L598.3,426.4 L599.5,427.4 L600.7,428.5 L601.9,429.6 L603.1,430.7 L604.3,431.8 L605.5,432.8 L606.7,433.9 L607.9,434.9 L609.1,435.9 L610.3,437.0 L611.5,438.0 L612.7,439.0 L613.9,440.0 L615.1,441.1 L616.3,442.1 L617.5,443.1 L618.7,444.1 L619.9,445.2 L621.1,446.2 L622.3,447.2 L623.6,448.2 L624.8,449.3 L626.0,450.3 L627.2,451.3 L628.4,452.3 L629.6,453.2 L630.8,454.2 L632.0,455.1 L633.2,455.9 L634.4,456.9 L635.6,457.8 L636.9,458.6 L638.1,459.5 L639.3,460.5 L640.4,461.4 L641.4,462.4 L642.4,463.4 L643.4,464.4 L644.3,465.4 L645.2,466.4 L646.1,467.4 L647.0,468.3 L647.8,469.2 L648.8,470.3 L650.1,471.5 L651.7,473.0 L653.6,474.7 L655.6,476.5 L657.7,478.3 L659.7,480.0 L661.9,481.7 L664.3,483.5 L666.6,485.3 L668.6,486.8 L670.0,487.8" stroke="#008000" stroke-width="1.90" stroke-dasharray="11.5 2.6 2.0 2.56"/>
<path d="M408.3,458.6 L409.3,458.6 L410.7,458.6 L412.4,458.6 L414.1,458.6 L415.6,458.6 L417.1,458.6 L418.6,458.6 L420.1,458.6 L421.5,458.6 L423.0,458.6 L424.5,458.6 L425.9,458.6 L427.4,458.6 L428.9,458.6 L430.3,458.5 L431.8,458.5 L433.3,458.5 L434.7,458.5 L436.2,458.5 L437.7,458.5 L439.2,458.5 L440.6,458.5 L442.1,458.5 L443.6,458.5 L445.0,458.5 L446.5,458.5 L448.0,458.5 L449.4,458.5 L450.9,458.5 L452.4,458.5 L453.9,458.5 L455.3,458.5 L456.8,458.5 L458.3,458.5 L459.7,458.5 L461.2,458.5 L462.7,458.5 L464.1,458.5 L465.6,458.5 L467.1,458.5 L468.5,458.5 L470.0,458.5 L471.5,458.4 L473.0,458.4 L474.4,458.4 L475.9,458.4 L477.4,458.4 L478.8,458.4 L480.3,458.4 L481.8,458.4 L483.2,458.4 L484.7,458.4 L486.2,458.4 L487.6,458.4 L489.1,458.4 L490.6,458.4 L492.1,458.4 L493.5,458.4 L495.0,458.4 L496.5,458.4 L497.9,458.4 L499.4,458.4 L500.9,458.4 L502.3,458.4 L503.8,458.4 L505.3,458.4 L506.8,458.4 L508.2,458.4 L509.7,458.4 L511.2,458.4 L512.6,458.3 L514.1,458.3 L515.6,458.3 L517.0,458.3 L518.5,458.3 L520.0,458.3 L521.4,458.3 L522.9,458.3 L524.4,458.3 L525.9,458.3 L527.4,458.4 L528.9,458.4 L530.4,458.5 L531.9,458.5 L533.2,458.3 L534.4,458.1 L535.4,457.8 L536.4,457.4 L537.3,456.8 L538.1,455.9 L538.9,454.5 L539.6,452.5 L540.3,450.5 L540.8,448.7 L541.2,447.4 L541.3,446.1 L541.4,444.3 L541.5,442.1 L541.7,439.9 L541.8,437.8 L541.9,435.9 L542.1,433.9 L542.2,431.9 L542.3,430.0 L542.4,428.2 L542.4,426.5 L542.5,424.9 L542.4,423.3 L542.4,421.7 L542.4,420.2 L542.4,418.6 L542.4,417.0 L542.5,415.3 L542.5,413.7 L542.5,412.1 L542.5,410.5 L542.5,408.9 L542.5,407.3 L542.5,405.7 L542.5,404.1 L542.5,402.5 L542.5,400.9 L542.5,399.3 L542.5,397.7 L542.5,396.1 L542.5,394.5 L542.5,392.9 L542.6,391.2 L542.6,389.6 L542.6,388.0 L542.6,386.4 L542.6,384.8 L542.6,383.2 L542.6,381.6 L542.6,380.0 L542.6,378.5 L542.6,377.0 L542.6,375.5 L542.6,374.0 L542.6,372.5 L542.6,371.0 L542.7,369.5 L542.7,368.0 L542.7,366.5 L542.7,365.0 L542.7,363.5 L542.7,362.0 L542.7,360.5 L542.7,359.0 L542.7,357.5 L542.7,356.0 L542.7,354.5 L542.7,353.0 L542.8,351.5 L542.8,350.0 L542.8,348.5 L542.8,347.0 L542.8,345.5 L542.8,344.0 L542.8,342.5 L542.8,341.0 L542.8,339.5 L542.8,338.0 L542.8,336.5 L542.8,335.0 L542.8,333.5 L542.9,332.0 L542.9,330.5 L542.9,329.0 L542.9,327.5 L542.9,326.0 L542.9,324.5 L542.9,323.0 L542.9,321.5 L542.9,320.0 L542.9,318.5 L542.9,317.0 L542.9,315.5 L543.0,314.0 L543.0,312.5 L543.0,310.9 L543.0,309.1 L543.0,307.5 L543.0,306.0 L543.0,305.0 L543.3,303.2 L543.8,300.4 L544.3,297.5 L544.8,295.1 L545.3,293.9 L545.7,294.2 L546.1,295.5 L546.6,297.4 L547.0,299.7 L547.4,301.9 L547.9,304.3 L548.3,307.1 L548.8,309.9 L549.2,312.7 L549.6,315.0 L549.9,316.8 L550.1,318.3 L550.3,319.7 L550.5,320.9 L550.7,322.3 L550.9,323.7 L551.1,324.9 L551.3,326.3 L551.5,327.8 L551.8,329.6 L552.2,331.9 L552.6,334.5 L553.0,337.2 L553.5,340.1 L554.0,342.8 L554.5,345.4 L555.1,348.0 L555.6,350.7 L556.3,353.3 L556.9,355.9 L557.6,358.6 L558.3,361.3 L559.0,364.0 L559.8,366.7 L560.6,369.1 L561.4,371.4 L562.3,373.5 L563.2,375.5 L564.1,377.4 L565.0,379.3 L566.0,381.1 L567.0,382.9 L568.0,384.6 L569.0,386.3 L570.1,388.0 L571.2,389.7 L572.3,391.4 L573.5,393.1 L574.7,394.9 L575.9,396.8 L577.2,398.9 L578.6,401.3 L580.0,403.6 L581.4,405.8 L582.6,407.7 L583.7,409.1 L584.7,410.3 L585.6,411.2 L586.5,412.1 L587.5,413.1 L588.4,414.2 L589.3,415.3 L590.3,416.3 L591.3,417.4 L592.3,418.5 L593.4,419.6 L594.6,420.7 L595.8,421.8 L597.1,422.9 L598.3,423.9 L599.5,425.0 L600.7,426.1 L601.9,427.2 L603.1,428.3 L604.3,429.4 L605.5,430.5 L606.7,431.6 L607.9,432.6 L609.1,433.7 L610.3,434.8 L611.5,435.9 L612.7,436.9 L613.9,438.0 L615.1,439.1 L616.3,440.2 L617.5,441.4 L618.7,442.6 L619.9,443.8 L621.1,445.0 L622.3,446.2 L623.6,447.5 L624.8,448.7 L626.0,450.0 L627.2,451.2 L628.4,452.3 L629.6,453.3 L630.8,454.3 L632.0,455.2 L633.2,456.2 L634.4,457.1 L635.6,458.1 L636.9,459.0 L638.1,459.9 L639.3,460.9 L640.4,461.9 L641.4,462.9 L642.4,464.0 L643.4,465.1 L644.3,466.2 L645.2,467.3 L646.1,468.3 L647.0,469.3 L647.8,470.2 L648.8,471.3 L650.1,472.7 L651.8,474.4 L653.8,476.5 L655.9,478.6 L657.9,480.7 L659.7,482.4 L661.1,483.7 L662.3,484.8 L663.4,485.8 L664.5,486.7 L665.7,487.7 L666.9,488.8 L668.3,490.1 L669.6,491.3 L670.8,492.3 L671.6,493.0" stroke="#0000ff" stroke-width="1.90" stroke-dasharray="2.0 2.68"/>
<path d="M543.9,440.0 L544.2,380.0 L544.5,304.0" stroke="#008000" stroke-width="1.80" stroke-linecap="butt"/>
<path d="M542.3,445.0 L542.5,380.0 L543.0,304.0" stroke="#0000ff" stroke-width="2.00" stroke-linecap="butt"/>
</g>
<rect x="390.70" y="282.65" width="293.80" height="218.85" fill="none" stroke="#1a1a1a" stroke-width="0.75"/>
<line x1="684.5" y1="282.25" x2="684.5" y2="501.90" stroke="#1a1a1a" stroke-width="1"/>
<line x1="424.10" y1="501.50" x2="424.10" y2="503.50" stroke="#1a1a1a" stroke-width="0.75"/>
<text x="424.10" y="514.40" font-family='"Liberation Sans", sans-serif' font-size="12.50" text-anchor="middle" textLength="7.38" lengthAdjust="spacingAndGlyphs" fill="#000" stroke="#000" stroke-width="0.3">1</text>
<line x1="497.40" y1="501.50" x2="497.40" y2="503.50" stroke="#1a1a1a" stroke-width="0.75"/>
<text x="497.40" y="514.40" font-family='"Liberation Sans", sans-serif' font-size="12.50" text-anchor="middle" textLength="7.38" lengthAdjust="spacingAndGlyphs" fill="#000" stroke="#000" stroke-width="0.3">2</text>
<line x1="570.70" y1="501.50" x2="570.70" y2="503.50" stroke="#1a1a1a" stroke-width="0.75"/>
<text x="570.70" y="514.40" font-family='"Liberation Sans", sans-serif' font-size="12.50" text-anchor="middle" textLength="7.38" lengthAdjust="spacingAndGlyphs" fill="#000" stroke="#000" stroke-width="0.3">3</text>
<line x1="644.00" y1="501.50" x2="644.00" y2="503.50" stroke="#1a1a1a" stroke-width="0.75"/>
<text x="644.00" y="514.40" font-family='"Liberation Sans", sans-serif' font-size="12.50" text-anchor="middle" textLength="7.38" lengthAdjust="spacingAndGlyphs" fill="#000" stroke="#000" stroke-width="0.3">4</text>
<line x1="388.70" y1="294.90" x2="390.70" y2="294.90" stroke="#1a1a1a" stroke-width="0.75"/>
<text x="387.30" y="299.40" font-family='"Liberation Sans", sans-serif' font-size="12.50" text-anchor="end" textLength="18.44" lengthAdjust="spacingAndGlyphs" fill="#000" stroke="#000" stroke-width="0.3">1.0</text>
<line x1="388.70" y1="328.40" x2="390.70" y2="328.40" stroke="#1a1a1a" stroke-width="0.75"/>
<text x="387.30" y="332.90" font-family='"Liberation Sans", sans-serif' font-size="12.50" text-anchor="end" textLength="18.44" lengthAdjust="spacingAndGlyphs" fill="#000" stroke="#000" stroke-width="0.3">0.8</text>
<line x1="388.70" y1="361.90" x2="390.70" y2="361.90" stroke="#1a1a1a" stroke-width="0.75"/>
<text x="387.30" y="366.40" font-family='"Liberation Sans", sans-serif' font-size="12.50" text-anchor="end" textLength="18.44" lengthAdjust="spacingAndGlyphs" fill="#000" stroke="#000" stroke-width="0.3">0.6</text>
<line x1="388.70" y1="395.40" x2="390.70" y2="395.40" stroke="#1a1a1a" stroke-width="0.75"/>
<text x="387.30" y="399.90" font-family='"Liberation Sans", sans-serif' font-size="12.50" text-anchor="end" textLength="18.44" lengthAdjust="spacingAndGlyphs" fill="#000" stroke="#000" stroke-width="0.3">0.4</text>
<line x1="388.70" y1="428.90" x2="390.70" y2="428.90" stroke="#1a1a1a" stroke-width="0.75"/>
<text x="387.30" y="433.40" font-family='"Liberation Sans", sans-serif' font-size="12.50" text-anchor="end" textLength="18.44" lengthAdjust="spacingAndGlyphs" fill="#000" stroke="#000" stroke-width="0.3">0.2</text>
<line x1="388.70" y1="462.40" x2="390.70" y2="462.40" stroke="#1a1a1a" stroke-width="0.75"/>
<text x="387.30" y="466.90" font-family='"Liberation Sans", sans-serif' font-size="12.50" text-anchor="end" textLength="18.44" lengthAdjust="spacingAndGlyphs" fill="#000" stroke="#000" stroke-width="0.3">0.0</text>
<line x1="388.70" y1="495.90" x2="390.70" y2="495.90" stroke="#1a1a1a" stroke-width="0.75"/>
<text x="387.30" y="500.40" font-family='"Liberation Sans", sans-serif' font-size="12.50" text-anchor="end" textLength="28.16" lengthAdjust="spacingAndGlyphs" fill="#000" stroke="#000" stroke-width="0.3">−0.2</text>
<text x="526.90" y="528.00" font-family='"Liberation Sans", sans-serif' font-size="12.1" font-style="italic" textLength="16.6" lengthAdjust="spacingAndGlyphs" stroke="#000" stroke-width="0.12">t/T</text>
<text x="543.60" y="530.20" font-family='"Liberation Sans", sans-serif' font-size="9.8" textLength="5.2" lengthAdjust="spacingAndGlyphs" stroke="#000" stroke-width="0.2">0</text>
<text x="355.20" y="379.60" font-family='"Liberation Sans", sans-serif' font-size="9.0" font-style="italic" text-anchor="middle" stroke="#000" stroke-width="0.25">η</text>
<line x1="349.80" y1="383.60" x2="360.00" y2="383.60" stroke="#222" stroke-width="0.8"/>
<text x="353.40" y="390.20" font-family='"Liberation Sans", sans-serif' font-size="9.0" font-style="italic" text-anchor="middle" stroke="#000" stroke-width="0.25">η</text>
<text x="358.20" y="391.90" font-family='"Liberation Sans", sans-serif' font-size="6.8" text-anchor="middle">0</text>
<text x="484.70" y="556.70" font-family='"Liberation Serif", serif' font-size="17.60" text-anchor="start" textLength="65.50" lengthAdjust="spacingAndGlyphs" fill="#000">(d) WG 4</text>
<clipPath id="clip_e"><rect x="40.45" y="569.60" width="294.15" height="218.60"/></clipPath>
<g clip-path="url(#clip_e)" fill="none" stroke-linejoin="round">
<path d="M53.1,752.2 L195.9,752.5 L196.0,751.4 L196.1,750.0 L196.2,748.2 L196.3,746.4 L196.4,744.7 L196.5,743.1 L196.5,741.5 L196.5,739.8 L196.5,738.2 L196.6,736.5 L196.6,734.9 L196.6,733.3 L196.6,731.6 L196.7,730.0 L196.7,728.4 L196.7,726.7 L196.8,725.1 L196.8,723.4 L196.8,721.8 L196.8,720.2 L196.9,718.5 L196.9,716.9 L196.9,715.2 L197.0,713.6 L197.0,712.0 L197.0,710.4 L197.1,708.9 L197.1,707.4 L197.1,706.0 L197.2,704.5 L197.2,702.9 L197.2,701.4 L197.3,699.9 L197.3,698.4 L197.3,696.9 L197.4,695.4 L197.4,693.9 L197.5,692.4 L197.5,690.9 L197.5,689.3 L197.6,687.8 L197.6,686.3 L197.6,684.8 L197.6,683.3 L197.7,681.8 L197.8,680.3 L197.9,678.7 L198.0,677.1 L198.1,675.6 L198.2,674.0 L198.3,672.4 L198.4,670.9 L198.5,669.3 L198.6,667.8 L198.7,666.2 L198.8,664.6 L198.9,663.1 L199.0,661.5 L199.1,660.0 L199.2,658.4 L199.4,656.8 L199.6,655.2 L199.8,653.6 L200.1,652.0 L200.3,650.3 L200.5,648.7 L200.7,647.1 L200.8,645.4 L201.1,643.8 L201.4,642.3 L201.9,640.8 L202.4,639.3 L203.0,637.9 L203.6,636.7 L204.3,635.8 L205.0,635.3 L205.7,635.2 L206.4,635.3 L207.2,635.5 L208.0,635.8 L208.8,636.2 L209.6,636.6 L210.4,637.2 L211.3,637.9 L212.3,638.7 L213.4,639.6 L214.5,640.5 L215.8,641.5 L217.0,642.6 L218.2,643.8 L219.4,645.0 L220.5,646.3 L221.7,647.6 L222.8,649.0 L224.0,650.4 L225.2,651.8 L226.4,653.3 L227.5,654.8 L228.7,656.3 L229.9,657.7 L231.0,659.0 L232.2,660.3 L233.3,661.6 L234.4,662.9 L235.7,664.2 L237.1,665.6 L238.5,667.1 L240.0,668.6 L241.5,670.1 L243.0,671.5 L244.5,672.9 L245.9,674.2 L247.4,675.6 L248.8,676.8 L250.3,678.1 L251.8,679.3 L253.3,680.6 L254.8,681.8 L256.3,682.9 L257.6,683.9 L258.8,684.7 L259.8,685.4 L260.9,686.0 L261.9,686.7 L263.0,687.5 L264.2,688.4 L265.5,689.4 L266.9,690.5 L268.2,691.6 L269.4,692.8 L270.5,694.0 L271.6,695.3 L272.6,696.6 L273.6,697.9 L274.7,699.2 L275.9,700.5 L277.1,701.8 L278.4,703.1 L279.7,704.3 L281.0,705.5 L282.3,706.6 L283.6,707.7 L284.8,708.8 L286.1,709.8 L287.4,710.8 L288.7,711.8 L289.9,712.8 L291.2,713.7 L292.4,714.7 L293.7,715.5 L295.0,716.2 L296.4,716.9 L297.8,717.4 L299.1,718.1 L300.1,718.8 L300.9,719.7 L301.4,720.7 L301.8,721.7 L302.2,722.7 L302.6,723.5 L303.0,724.2 L303.4,724.8 L303.8,725.3 L304.1,725.7 L304.3,726.0 L304.8,726.1 L305.5,726.3 L306.3,726.4 L307.1,726.5 L308.0,726.6 L308.9,726.5 L309.9,726.4 L310.9,726.2 L311.9,726.0 L312.8,726.0 L313.7,726.1 L314.5,726.3 L315.3,726.5 L316.1,726.7 L317.0,726.8 L318.0,726.8 L319.1,726.7 L320.1,726.7 L321.1,726.6 L321.7,726.5" stroke="#ff0000" stroke-width="1.90"/>
<path d="M57.9,751.6 L197.4,751.4 L197.7,750.5 L198.2,749.3 L198.7,747.8 L199.2,746.2 L199.5,744.7 L199.7,743.2 L199.7,741.6 L199.8,740.0 L199.7,738.4 L199.8,736.8 L199.8,735.2 L199.9,733.6 L199.9,732.0 L200.0,730.4 L200.1,728.8 L200.1,727.2 L200.2,725.6 L200.2,724.0 L200.3,722.4 L200.3,720.9 L200.4,719.3 L200.4,717.7 L200.5,716.1 L200.5,714.5 L200.6,712.9 L200.7,711.3 L200.7,709.7 L200.8,708.1 L200.8,706.6 L200.8,705.0 L200.9,703.4 L200.9,701.8 L201.0,700.2 L201.0,698.6 L201.1,697.0 L201.2,695.5 L201.2,693.9 L201.2,692.3 L201.3,690.7 L201.3,689.1 L201.4,687.5 L201.5,685.9 L201.5,684.3 L201.6,682.7 L201.6,681.2 L201.6,679.7 L201.7,678.3 L201.7,676.9 L201.8,675.5 L201.8,674.1 L201.9,672.7 L201.9,671.3 L202.0,669.9 L202.0,668.5 L202.1,667.1 L202.1,665.7 L202.2,664.3 L202.2,662.9 L202.3,661.5 L202.3,660.0 L202.3,658.5 L202.4,657.0 L202.4,655.4 L202.4,653.9 L202.4,652.3 L202.5,650.8 L202.5,649.2 L202.5,647.7 L202.5,646.1 L202.6,644.6 L202.6,643.1 L202.6,641.5 L202.6,640.0 L202.7,638.4 L202.7,636.9 L202.7,635.4 L202.7,633.8 L202.7,632.3 L202.8,630.8 L202.8,629.2 L202.9,627.6 L202.9,626.0 L203.0,624.4 L203.1,622.8 L203.2,621.2 L203.3,619.4 L203.4,617.5 L203.5,615.7 L203.5,614.2 L203.6,613.1 L203.8,614.5 L204.0,616.5 L204.3,618.8 L204.6,621.2 L205.0,623.4 L205.4,625.4 L205.8,627.5 L206.2,629.5 L206.7,631.6 L207.2,633.6 L207.8,635.7 L208.5,637.7 L209.3,639.8 L210.1,641.8 L210.9,643.8 L211.7,645.7 L212.5,647.4 L213.4,649.2 L214.3,650.9 L215.3,652.6 L216.3,654.3 L217.4,656.0 L218.6,657.7 L219.8,659.5 L221.1,661.3 L222.5,663.3 L223.9,665.3 L225.4,667.4 L226.9,669.5 L228.4,671.5 L229.8,673.3 L231.2,675.1 L232.7,676.8 L234.1,678.6 L235.7,680.3 L237.4,682.1 L239.1,683.9 L240.9,685.6 L242.7,687.4 L244.5,689.1 L246.2,690.8 L248.0,692.4 L249.7,694.0 L251.5,695.6 L253.2,697.1 L254.9,698.5 L256.7,699.9 L258.4,701.3 L260.2,702.5 L262.0,703.6 L263.9,704.5 L266.0,705.3 L268.0,706.0 L269.9,706.8 L271.5,707.6 L272.8,708.5 L273.9,709.5 L274.8,710.5 L275.7,711.6 L276.8,712.9 L278.0,714.4 L279.2,716.2 L280.5,718.0 L281.8,719.8 L283.1,721.4 L284.4,722.8 L285.7,724.1 L286.9,725.3 L288.2,726.5 L289.5,727.7 L290.7,728.9 L291.9,730.1 L293.1,731.3 L294.4,732.5 L295.8,733.7 L297.4,734.9 L299.1,736.1 L300.9,737.2 L302.6,738.4 L304.3,739.4 L305.9,740.4 L307.4,741.2 L308.9,742.1 L310.3,742.8 L311.7,743.6 L313.1,744.4 L314.6,745.1 L316.0,745.8 L317.2,746.4 L318.1,746.8" stroke="#008000" stroke-width="1.90" stroke-dasharray="11.5 2.6 2.0 2.56"/>
<path d="M58.2,750.1 L195.3,749.8 L195.7,748.5 L196.3,746.6 L197.0,744.5 L197.6,742.3 L198.0,740.4 L198.2,738.8 L198.3,737.2 L198.2,735.7 L198.2,734.3 L198.2,732.8 L198.2,731.3 L198.3,729.7 L198.3,728.2 L198.3,726.7 L198.4,725.2 L198.4,723.6 L198.4,722.1 L198.5,720.6 L198.5,719.1 L198.5,717.5 L198.6,716.0 L198.6,714.5 L198.6,713.0 L198.7,711.4 L198.7,709.9 L198.8,708.4 L198.8,706.9 L198.8,705.4 L198.9,703.9 L198.9,702.3 L198.9,700.7 L199.0,699.1 L199.0,697.5 L199.0,695.8 L199.1,694.2 L199.1,692.6 L199.1,691.0 L199.2,689.4 L199.2,687.8 L199.2,686.1 L199.3,684.5 L199.3,682.9 L199.4,681.3 L199.4,679.7 L199.4,678.1 L199.5,676.5 L199.5,674.8 L199.5,673.2 L199.6,671.6 L199.6,670.0 L199.6,668.5 L199.6,666.9 L199.7,665.5 L199.7,664.0 L199.7,662.5 L199.7,661.0 L199.7,659.5 L199.8,657.9 L199.8,656.4 L199.8,654.9 L199.8,653.4 L199.8,651.9 L199.9,650.4 L199.9,648.9 L199.9,647.4 L199.9,645.9 L199.9,644.4 L200.0,642.9 L200.0,641.4 L200.0,639.9 L200.0,638.4 L200.0,636.9 L200.1,635.3 L200.1,633.8 L200.1,632.3 L200.1,630.7 L200.1,629.0 L200.2,627.3 L200.2,625.8 L200.2,624.8 L199.4,640.0 L201.0,622.0 L200.3,634.0 L200.5,632.8 L200.9,631.2 L201.3,629.3 L201.7,627.3 L202.1,625.4 L202.4,623.4 L202.8,621.2 L203.1,619.1 L203.5,617.5 L203.9,616.8 L204.4,617.1 L204.8,618.4 L205.3,620.0 L205.9,621.8 L206.5,623.4 L207.2,624.7 L207.9,625.9 L208.6,627.1 L209.4,628.5 L210.1,629.9 L210.8,631.5 L211.5,633.2 L212.3,635.0 L213.0,636.9 L213.8,638.7 L214.6,640.5 L215.4,642.4 L216.3,644.3 L217.2,646.2 L218.2,648.2 L219.2,650.2 L220.3,652.2 L221.5,654.3 L222.7,656.3 L224.0,658.4 L225.3,660.5 L226.7,662.5 L228.2,664.6 L229.7,666.6 L231.3,668.6 L233.0,670.6 L234.7,672.5 L236.5,674.4 L238.3,676.3 L240.1,678.1 L241.8,679.9 L243.6,681.7 L245.3,683.5 L247.1,685.2 L248.8,686.9 L250.6,688.6 L252.4,690.3 L254.2,691.9 L255.9,693.5 L257.6,694.9 L259.2,696.2 L260.7,697.5 L262.2,698.6 L263.6,699.7 L264.9,700.7 L266.1,701.5 L267.1,702.3 L268.1,702.9 L269.0,703.6 L270.0,704.4 L270.9,705.3 L271.8,706.2 L272.7,707.2 L273.7,708.3 L274.7,709.7 L275.9,711.4 L277.1,713.3 L278.4,715.4 L279.7,717.5 L281.0,719.3 L282.3,720.9 L283.6,722.5 L284.8,723.9 L286.1,725.3 L287.4,726.7 L288.7,728.1 L289.9,729.4 L291.2,730.7 L292.4,731.9 L293.7,733.0 L294.9,734.0 L296.2,734.8 L297.4,735.6 L298.7,736.4 L300.1,737.3 L301.7,738.3 L303.3,739.4 L305.0,740.5 L306.8,741.6 L308.5,742.6 L310.3,743.5 L312.3,744.4 L314.2,745.2 L315.8,745.9 L317.0,746.4" stroke="#0000ff" stroke-width="1.90" stroke-dasharray="2.0 2.68"/>
<path d="M199.5,668.0 L199.9,645.0 L200.3,623.5" stroke="#0000ff" stroke-width="2.70" stroke-linecap="butt"/>
<path d="M202.6,640.0 L203.5,612.5 L204.6,622.0" stroke="#008000" stroke-width="2.00" stroke-linecap="butt"/>
</g>
<rect x="40.45" y="569.60" width="294.15" height="218.60" fill="none" stroke="#1a1a1a" stroke-width="0.75"/>
<line x1="73.60" y1="788.20" x2="73.60" y2="790.20" stroke="#1a1a1a" stroke-width="0.75"/>
<text x="73.60" y="801.10" font-family='"Liberation Sans", sans-serif' font-size="12.50" text-anchor="middle" textLength="7.38" lengthAdjust="spacingAndGlyphs" fill="#000" stroke="#000" stroke-width="0.3">1</text>
<line x1="147.10" y1="788.20" x2="147.10" y2="790.20" stroke="#1a1a1a" stroke-width="0.75"/>
<text x="147.10" y="801.10" font-family='"Liberation Sans", sans-serif' font-size="12.50" text-anchor="middle" textLength="7.38" lengthAdjust="spacingAndGlyphs" fill="#000" stroke="#000" stroke-width="0.3">2</text>
<line x1="220.70" y1="788.20" x2="220.70" y2="790.20" stroke="#1a1a1a" stroke-width="0.75"/>
<text x="220.70" y="801.10" font-family='"Liberation Sans", sans-serif' font-size="12.50" text-anchor="middle" textLength="7.38" lengthAdjust="spacingAndGlyphs" fill="#000" stroke="#000" stroke-width="0.3">3</text>
<line x1="294.20" y1="788.20" x2="294.20" y2="790.20" stroke="#1a1a1a" stroke-width="0.75"/>
<text x="294.20" y="801.10" font-family='"Liberation Sans", sans-serif' font-size="12.50" text-anchor="middle" textLength="7.38" lengthAdjust="spacingAndGlyphs" fill="#000" stroke="#000" stroke-width="0.3">4</text>
<line x1="38.45" y1="569.80" x2="40.45" y2="569.80" stroke="#1a1a1a" stroke-width="0.75"/>
<text x="37.05" y="574.30" font-family='"Liberation Sans", sans-serif' font-size="12.50" text-anchor="end" textLength="18.44" lengthAdjust="spacingAndGlyphs" fill="#000" stroke="#000" stroke-width="0.3">1.0</text>
<line x1="38.45" y1="606.20" x2="40.45" y2="606.20" stroke="#1a1a1a" stroke-width="0.75"/>
<text x="37.05" y="610.70" font-family='"Liberation Sans", sans-serif' font-size="12.50" text-anchor="end" textLength="18.44" lengthAdjust="spacingAndGlyphs" fill="#000" stroke="#000" stroke-width="0.3">0.8</text>
<line x1="38.45" y1="642.60" x2="40.45" y2="642.60" stroke="#1a1a1a" stroke-width="0.75"/>
<text x="37.05" y="647.10" font-family='"Liberation Sans", sans-serif' font-size="12.50" text-anchor="end" textLength="18.44" lengthAdjust="spacingAndGlyphs" fill="#000" stroke="#000" stroke-width="0.3">0.6</text>
<line x1="38.45" y1="679.00" x2="40.45" y2="679.00" stroke="#1a1a1a" stroke-width="0.75"/>
<text x="37.05" y="683.50" font-family='"Liberation Sans", sans-serif' font-size="12.50" text-anchor="end" textLength="18.44" lengthAdjust="spacingAndGlyphs" fill="#000" stroke="#000" stroke-width="0.3">0.4</text>
<line x1="38.45" y1="715.40" x2="40.45" y2="715.40" stroke="#1a1a1a" stroke-width="0.75"/>
<text x="37.05" y="719.90" font-family='"Liberation Sans", sans-serif' font-size="12.50" text-anchor="end" textLength="18.44" lengthAdjust="spacingAndGlyphs" fill="#000" stroke="#000" stroke-width="0.3">0.2</text>
<line x1="38.45" y1="751.80" x2="40.45" y2="751.80" stroke="#1a1a1a" stroke-width="0.75"/>
<text x="37.05" y="756.30" font-family='"Liberation Sans", sans-serif' font-size="12.50" text-anchor="end" textLength="18.44" lengthAdjust="spacingAndGlyphs" fill="#000" stroke="#000" stroke-width="0.3">0.0</text>
<line x1="38.45" y1="788.20" x2="40.45" y2="788.20" stroke="#1a1a1a" stroke-width="0.75"/>
<text x="37.05" y="792.70" font-family='"Liberation Sans", sans-serif' font-size="12.50" text-anchor="end" textLength="28.16" lengthAdjust="spacingAndGlyphs" fill="#000" stroke="#000" stroke-width="0.3">−0.2</text>
<text x="176.00" y="814.50" font-family='"Liberation Sans", sans-serif' font-size="12.1" font-style="italic" textLength="16.6" lengthAdjust="spacingAndGlyphs" stroke="#000" stroke-width="0.12">t/T</text>
<text x="192.70" y="816.70" font-family='"Liberation Sans", sans-serif' font-size="9.8" textLength="5.2" lengthAdjust="spacingAndGlyphs" stroke="#000" stroke-width="0.2">0</text>
<text x="4.50" y="666.70" font-family='"Liberation Sans", sans-serif' font-size="9.0" font-style="italic" text-anchor="middle" stroke="#000" stroke-width="0.25">η</text>
<line x1="-0.90" y1="670.70" x2="9.30" y2="670.70" stroke="#222" stroke-width="0.8"/>
<text x="2.70" y="677.30" font-family='"Liberation Sans", sans-serif' font-size="9.0" font-style="italic" text-anchor="middle" stroke="#000" stroke-width="0.25">η</text>
<text x="7.50" y="679.00" font-family='"Liberation Sans", sans-serif' font-size="6.8" text-anchor="middle">0</text>
<text x="134.40" y="844.20" font-family='"Liberation Serif", serif' font-size="17.60" text-anchor="start" textLength="64.40" lengthAdjust="spacingAndGlyphs" fill="#000">(e) WG 5</text>
<clipPath id="clip_f"><rect x="379.00" y="569.40" width="293.60" height="218.90"/></clipPath>
<g clip-path="url(#clip_f)" fill="none" stroke-linejoin="round">
<path d="M391.4,755.0 L543.2,755.0 L544.7,656.1 L545.6,755.0 L555.1,755.0 L556.2,708.4 L557.3,755.0 L557.9,716.0 L558.5,755.0 L559.2,730.0 L559.8,755.0 L560.4,755.0 L561.3,707.4 L562.3,695.1 L563.2,694.5 L564.2,693.2 L565.1,689.0 L566.1,686.6 L567.2,682.4 L568.0,686.0 L568.9,688.5 L570.2,698.0 L571.8,704.6 L573.2,705.0 L574.6,706.5 L575.5,702.0 L576.5,700.8 L578.0,697.5 L579.7,697.0 L580.9,698.5 L582.2,698.0 L583.5,701.5 L585.0,702.7 L585.9,700.0 L586.9,700.8 L587.8,704.5 L588.8,705.5 L590.2,706.3 L591.7,708.4 L594.0,708.2 L596.4,709.0 L599.0,708.0 L602.1,708.4 L605.0,709.5 L607.8,709.3 L609.8,710.5 L611.6,711.2 L612.6,712.5 L613.5,714.1 L614.1,755.0 L660.5,755.0" stroke="#ff0000" stroke-width="1.90"/>
<path d="M397.0,755.0 L398.0,755.0 L399.4,755.0 L401.0,755.0 L402.7,755.0 L404.3,755.0 L405.8,755.0 L407.2,755.0 L408.7,755.0 L410.1,755.0 L411.6,755.0 L413.1,755.0 L414.5,755.0 L416.0,755.0 L417.4,755.0 L418.9,755.0 L420.4,755.0 L421.8,755.0 L423.3,755.0 L424.7,755.0 L426.2,755.0 L427.7,755.0 L429.1,755.0 L430.6,755.0 L432.0,755.0 L433.5,755.0 L435.0,755.0 L436.4,755.0 L437.9,755.0 L439.3,755.0 L440.8,755.0 L442.3,755.0 L443.7,755.0 L445.2,755.0 L446.6,755.0 L448.1,755.0 L449.6,755.0 L451.0,755.0 L452.5,755.0 L453.9,755.0 L455.4,755.0 L456.9,755.0 L458.3,755.0 L459.8,755.0 L461.2,755.0 L462.7,755.0 L464.2,755.0 L465.6,755.0 L467.1,755.0 L468.5,755.0 L470.0,755.0 L471.5,755.0 L472.9,755.0 L474.4,755.0 L475.8,755.0 L477.3,755.0 L478.8,755.0 L480.2,755.0 L481.7,755.0 L483.1,755.0 L484.6,755.0 L486.1,755.0 L487.5,755.0 L489.0,755.0 L490.4,755.0 L491.9,755.0 L493.4,755.0 L494.8,755.0 L496.3,755.0 L497.7,755.0 L499.2,755.0 L500.7,755.0 L502.1,755.0 L503.6,755.0 L505.0,755.0 L506.5,755.0 L508.0,755.0 L509.4,755.0 L510.9,755.0 L512.3,755.0 L513.8,755.0 L515.3,755.0 L516.7,755.0 L518.2,755.0 L519.6,755.0 L521.1,755.0 L522.6,755.0 L524.0,755.0 L525.5,755.0 L526.9,755.0 L528.4,755.0 L529.9,755.0 L531.3,755.0 L532.8,755.0 L534.2,755.0 L535.7,755.0 L537.2,755.0 L538.9,755.1 L540.4,755.1 L541.9,755.1 L543.0,755.0 L543.8,754.8 L544.3,754.7 L544.6,754.4 L544.9,753.9 L545.2,753.0 L545.6,751.6 L546.0,749.9 L546.4,747.9 L546.7,745.8 L547.1,743.5 L547.5,741.0 L547.9,738.2 L548.3,735.3 L548.7,732.6 L549.0,730.2 L549.3,728.3 L549.4,726.7 L549.6,725.4 L549.8,724.0 L550.0,722.6 L550.1,721.1 L550.3,719.6 L550.5,718.1 L550.7,716.6 L550.9,715.0 L551.1,713.4 L551.3,711.7 L551.5,709.9 L551.7,708.2 L551.8,706.5 L552.0,704.8 L552.2,703.1 L552.4,701.4 L552.6,699.7 L552.8,698.0 L553.0,696.3 L553.2,694.6 L553.4,692.9 L553.6,691.2 L553.8,689.5 L553.9,687.7 L554.1,686.0 L554.3,684.3 L554.5,682.5 L554.7,680.9 L554.9,679.3 L555.1,677.8 L555.3,676.3 L555.5,674.8 L555.7,673.3 L555.8,671.7 L556.1,670.2 L556.3,668.6 L556.4,667.1 L556.6,665.7 L556.7,664.5 L556.8,663.5 L556.9,662.4 L557.0,661.3 L557.1,660.0 L557.3,658.4 L557.5,656.6 L557.7,654.6 L557.9,652.7 L558.2,650.8 L558.3,648.9 L558.5,647.0 L558.6,645.2 L558.9,643.3 L559.2,641.5 L559.7,639.7 L560.3,637.8 L560.9,635.9 L561.5,634.3 L562.1,632.8 L562.6,631.6 L563.1,630.5 L563.6,629.6 L564.0,628.9 L564.3,628.4 L564.3,627.4 L564.3,626.0 L564.4,624.4 L564.4,622.7 L564.4,621.1 L564.4,619.6 L564.4,618.2 L564.5,616.7 L564.5,615.3 L564.5,613.8 L564.5,612.3 L564.5,610.9 L564.6,609.4 L564.6,608.0 L564.6,606.5 L564.6,605.1 L564.6,603.7 L564.7,602.3 L564.7,600.8 L564.7,599.2 L564.7,597.4 L564.8,595.4 L564.8,593.4 L564.8,591.4 L564.9,589.4 L564.9,587.2 L564.9,584.9 L565.0,582.7 L565.0,580.8 L565.0,579.5 L565.1,580.8 L565.1,582.7 L565.2,584.9 L565.3,587.2 L565.4,589.4 L565.5,591.4 L565.6,593.4 L565.7,595.4 L565.7,597.4 L565.8,599.2 L565.8,600.8 L565.9,602.3 L565.9,603.7 L565.9,605.1 L565.9,606.5 L565.9,608.0 L565.9,609.4 L566.0,610.9 L566.0,612.3 L566.0,613.8 L566.0,615.3 L566.0,616.7 L566.1,618.2 L566.1,619.6 L566.1,621.1 L566.1,622.6 L566.1,624.0 L566.2,625.5 L566.2,626.9 L566.2,628.4 L566.2,629.9 L566.3,631.3 L566.3,632.8 L566.4,634.2 L566.4,635.7 L566.4,637.2 L566.5,638.6 L566.5,640.1 L566.6,641.5 L566.6,643.0 L566.6,644.4 L566.7,645.8 L566.7,647.2 L566.7,648.7 L566.8,650.3 L566.9,652.1 L567.1,654.1 L567.3,656.2 L567.4,658.2 L567.6,660.0 L567.7,661.7 L567.9,663.2 L568.0,664.7 L568.1,666.1 L568.2,667.6 L568.4,669.1 L568.5,670.6 L568.6,672.2 L568.8,673.7 L568.9,675.2 L569.1,676.7 L569.3,678.2 L569.5,679.8 L569.7,681.3 L569.8,682.8 L570.0,684.3 L570.2,685.7 L570.3,687.1 L570.5,688.6 L570.8,690.4 L571.2,692.5 L571.7,694.9 L572.2,697.3 L572.7,699.7 L573.3,701.8 L573.9,703.5 L574.5,705.1 L575.1,706.5 L575.8,707.9 L576.5,709.3 L577.2,710.8 L577.9,712.3 L578.7,713.9 L579.5,715.4 L580.3,716.9 L581.2,718.5 L582.1,720.0 L583.0,721.6 L584.0,723.1 L585.0,724.5 L586.1,725.8 L587.2,727.0 L588.4,728.1 L589.5,729.1 L590.7,730.2 L591.8,731.2 L592.8,732.1 L593.8,733.1 L595.0,734.0 L596.4,735.0 L598.1,736.1 L599.9,737.3 L601.9,738.5 L603.9,739.7 L605.9,740.7 L607.7,741.6 L609.5,742.4 L611.3,743.1 L613.3,743.8 L615.4,744.5 L617.9,745.1 L620.7,745.8 L623.6,746.3 L626.3,746.9 L628.7,747.3 L630.6,747.6 L632.2,747.9 L633.5,748.1 L634.9,748.3 L636.3,748.5 L637.7,748.8 L639.1,749.0 L640.5,749.3 L642.1,749.5 L643.9,749.8 L646.3,750.1 L649.1,750.4 L651.9,750.7 L654.5,750.9 L656.2,751.1" stroke="#008000" stroke-width="1.90" stroke-dasharray="11.5 2.6 2.0 2.56"/>
<path d="M397.0,755.0 L398.0,755.0 L399.4,755.0 L401.0,755.0 L402.7,755.0 L404.3,755.0 L405.8,755.0 L407.2,755.0 L408.7,755.0 L410.1,755.0 L411.6,755.0 L413.1,755.0 L414.5,755.0 L416.0,755.0 L417.4,755.0 L418.9,755.0 L420.4,755.0 L421.8,755.0 L423.3,755.0 L424.7,755.0 L426.2,755.0 L427.7,755.0 L429.1,755.0 L430.6,755.0 L432.0,755.0 L433.5,755.0 L435.0,755.0 L436.4,755.0 L437.9,755.0 L439.3,755.0 L440.8,755.0 L442.3,755.0 L443.7,755.0 L445.2,755.0 L446.6,755.0 L448.1,755.0 L449.6,755.0 L451.0,755.0 L452.5,755.0 L453.9,755.0 L455.4,755.0 L456.9,755.0 L458.3,755.0 L459.8,755.0 L461.2,755.0 L462.7,755.0 L464.2,755.0 L465.6,755.0 L467.1,755.0 L468.5,755.0 L470.0,755.0 L471.5,755.0 L472.9,755.0 L474.4,755.0 L475.8,755.0 L477.3,755.0 L478.8,755.0 L480.2,755.0 L481.7,755.0 L483.1,755.0 L484.6,755.0 L486.1,755.0 L487.5,755.0 L489.0,755.0 L490.4,755.0 L491.9,755.0 L493.4,755.0 L494.8,755.0 L496.3,755.0 L497.7,755.0 L499.2,755.0 L500.7,755.0 L502.1,755.0 L503.6,755.0 L505.0,755.0 L506.5,755.0 L508.0,755.0 L509.4,755.0 L510.9,755.0 L512.3,755.0 L513.8,755.0 L515.3,755.0 L516.7,755.0 L518.2,755.0 L519.6,755.0 L521.1,755.0 L522.6,755.0 L524.0,755.0 L525.5,755.0 L526.9,755.0 L528.4,755.0 L529.9,755.0 L531.3,755.0 L532.8,755.0 L534.2,755.0 L535.7,755.0 L537.2,755.1 L538.8,755.3 L540.4,755.4 L541.8,755.4 L543.0,755.0 L543.9,754.3 L544.6,753.3 L545.1,752.1 L545.6,750.7 L546.1,749.2 L546.6,747.6 L547.0,745.8 L547.3,743.9 L547.7,741.9 L548.0,739.7 L548.3,737.3 L548.6,734.8 L548.8,732.1 L549.0,729.5 L549.2,727.0 L549.4,724.6 L549.5,722.2 L549.7,720.0 L549.8,717.9 L549.9,716.0 L550.0,714.4 L550.1,713.0 L550.2,711.7 L550.3,710.7 L550.4,710.0 M550.8,728.0 L550.9,726.3 L551.0,724.0 L551.1,721.2 L551.3,718.5 L551.4,716.0 L551.5,713.8 L551.6,711.7 L551.7,709.6 L551.9,707.7 L552.0,706.0 L552.1,704.3 L552.2,702.5 L552.3,701.0 L552.5,700.1 L552.8,699.9 L553.2,700.8 L553.8,702.7 L554.4,705.0 L555.0,707.3 L555.6,709.3 L556.2,710.9 L556.7,712.3 L557.3,713.7 L557.9,714.9 L558.5,716.0 L559.2,717.0 L559.9,717.9 L560.7,718.6 L561.5,719.3 L562.3,719.8 L563.2,720.2 L564.2,720.5 L565.2,720.7 L566.2,720.7 L567.0,720.4 L567.7,719.9 L568.3,719.3 L568.9,718.4 L569.4,717.4 L569.9,716.0 L570.4,714.1 L570.8,711.8 L571.3,709.3 L571.7,707.1 L572.1,705.5 L572.5,704.5 L572.9,703.9 L573.3,703.7 L573.6,703.7 L574.0,704.0 L574.4,704.5 L574.8,705.3 L575.1,706.4 L575.5,707.7 L575.9,709.3 L576.3,711.2 L576.7,713.5 L577.1,715.9 L577.5,718.4 L577.8,720.7 L578.1,723.0 L578.4,725.5 L578.6,727.8 L578.8,729.8 L579.0,731.2 L579.2,730.4 L579.4,729.3 L579.7,728.0 L580.0,726.7 L580.3,725.5 L580.5,724.3 L580.6,723.1 L580.7,721.9 L580.9,721.0 L581.2,720.7 L581.7,721.1 L582.3,722.0 L582.9,723.3 L583.6,724.5 L584.1,725.5 L584.5,726.3 L584.9,727.0 L585.3,727.7 L585.6,728.1 L586.0,728.3 L586.4,728.1 L586.8,727.7 L587.1,727.0 L587.5,726.3 L587.9,725.5 L588.3,724.7 L588.8,723.6 L589.2,722.6 L589.5,721.7 L589.8,721.1 L589.9,722.3 L590.0,724.0 L590.2,725.9 L590.4,727.8 L590.7,729.3 L591.1,730.5 L591.6,731.5 L592.2,732.4 L592.9,733.2 L593.6,734.0 L594.4,734.8 L595.2,735.4 L596.1,736.1 L597.1,736.7 L598.3,737.4 L599.6,738.2 L601.1,739.0 L602.7,739.8 L604.3,740.5 L605.9,741.2 L607.4,741.7 L608.8,742.2 L610.2,742.6 L611.7,743.0 L613.5,743.5 L615.5,744.1 L617.8,744.7 L620.2,745.3 L622.6,745.9 L624.9,746.4 L627.2,746.9 L629.5,747.4 L631.7,747.8 L634.0,748.2 L636.3,748.6 L638.6,749.0 L641.0,749.3 L643.3,749.6 L645.6,749.9 L647.7,750.2 L649.7,750.4 L651.7,750.7 L653.6,750.8 L655.1,751.0 L656.2,751.1" stroke="#0000ff" stroke-width="1.90" stroke-dasharray="2.0 2.68"/>
<path d="M564.5,630.0 L565.0,579.5 L565.9,630.0" stroke="#008000" stroke-width="1.80" stroke-linecap="butt"/>
</g>
<rect x="379.00" y="569.40" width="293.60" height="218.90" fill="none" stroke="#1a1a1a" stroke-width="0.75"/>
<line x1="412.10" y1="788.30" x2="412.10" y2="790.30" stroke="#1a1a1a" stroke-width="0.75"/>
<text x="412.10" y="801.20" font-family='"Liberation Sans", sans-serif' font-size="12.50" text-anchor="middle" textLength="7.38" lengthAdjust="spacingAndGlyphs" fill="#000" stroke="#000" stroke-width="0.3">1</text>
<line x1="485.70" y1="788.30" x2="485.70" y2="790.30" stroke="#1a1a1a" stroke-width="0.75"/>
<text x="485.70" y="801.20" font-family='"Liberation Sans", sans-serif' font-size="12.50" text-anchor="middle" textLength="7.38" lengthAdjust="spacingAndGlyphs" fill="#000" stroke="#000" stroke-width="0.3">2</text>
<line x1="559.40" y1="788.30" x2="559.40" y2="790.30" stroke="#1a1a1a" stroke-width="0.75"/>
<text x="559.40" y="801.20" font-family='"Liberation Sans", sans-serif' font-size="12.50" text-anchor="middle" textLength="7.38" lengthAdjust="spacingAndGlyphs" fill="#000" stroke="#000" stroke-width="0.3">3</text>
<line x1="633.00" y1="788.30" x2="633.00" y2="790.30" stroke="#1a1a1a" stroke-width="0.75"/>
<text x="633.00" y="801.20" font-family='"Liberation Sans", sans-serif' font-size="12.50" text-anchor="middle" textLength="7.38" lengthAdjust="spacingAndGlyphs" fill="#000" stroke="#000" stroke-width="0.3">4</text>
<line x1="377.00" y1="586.00" x2="379.00" y2="586.00" stroke="#1a1a1a" stroke-width="0.75"/>
<text x="375.60" y="590.50" font-family='"Liberation Sans", sans-serif' font-size="12.50" text-anchor="end" textLength="18.44" lengthAdjust="spacingAndGlyphs" fill="#000" stroke="#000" stroke-width="0.3">1.0</text>
<line x1="377.00" y1="619.80" x2="379.00" y2="619.80" stroke="#1a1a1a" stroke-width="0.75"/>
<text x="375.60" y="624.30" font-family='"Liberation Sans", sans-serif' font-size="12.50" text-anchor="end" textLength="18.44" lengthAdjust="spacingAndGlyphs" fill="#000" stroke="#000" stroke-width="0.3">0.8</text>
<line x1="377.00" y1="653.70" x2="379.00" y2="653.70" stroke="#1a1a1a" stroke-width="0.75"/>
<text x="375.60" y="658.20" font-family='"Liberation Sans", sans-serif' font-size="12.50" text-anchor="end" textLength="18.44" lengthAdjust="spacingAndGlyphs" fill="#000" stroke="#000" stroke-width="0.3">0.6</text>
<line x1="377.00" y1="687.50" x2="379.00" y2="687.50" stroke="#1a1a1a" stroke-width="0.75"/>
<text x="375.60" y="692.00" font-family='"Liberation Sans", sans-serif' font-size="12.50" text-anchor="end" textLength="18.44" lengthAdjust="spacingAndGlyphs" fill="#000" stroke="#000" stroke-width="0.3">0.4</text>
<line x1="377.00" y1="721.40" x2="379.00" y2="721.40" stroke="#1a1a1a" stroke-width="0.75"/>
<text x="375.60" y="725.90" font-family='"Liberation Sans", sans-serif' font-size="12.50" text-anchor="end" textLength="18.44" lengthAdjust="spacingAndGlyphs" fill="#000" stroke="#000" stroke-width="0.3">0.2</text>
<line x1="377.00" y1="755.20" x2="379.00" y2="755.20" stroke="#1a1a1a" stroke-width="0.75"/>
<text x="375.60" y="759.70" font-family='"Liberation Sans", sans-serif' font-size="12.50" text-anchor="end" textLength="18.44" lengthAdjust="spacingAndGlyphs" fill="#000" stroke="#000" stroke-width="0.3">0.0</text>
<line x1="377.00" y1="788.60" x2="379.00" y2="788.60" stroke="#1a1a1a" stroke-width="0.75"/>
<text x="375.60" y="793.10" font-family='"Liberation Sans", sans-serif' font-size="12.50" text-anchor="end" textLength="28.16" lengthAdjust="spacingAndGlyphs" fill="#000" stroke="#000" stroke-width="0.3">−0.2</text>
<text x="515.00" y="814.50" font-family='"Liberation Sans", sans-serif' font-size="12.1" font-style="italic" textLength="16.6" lengthAdjust="spacingAndGlyphs" stroke="#000" stroke-width="0.12">t/T</text>
<text x="531.70" y="816.70" font-family='"Liberation Sans", sans-serif' font-size="9.8" textLength="5.2" lengthAdjust="spacingAndGlyphs" stroke="#000" stroke-width="0.2">0</text>
<text x="343.40" y="666.70" font-family='"Liberation Sans", sans-serif' font-size="9.0" font-style="italic" text-anchor="middle" stroke="#000" stroke-width="0.25">η</text>
<line x1="338.00" y1="670.70" x2="348.20" y2="670.70" stroke="#222" stroke-width="0.8"/>
<text x="341.60" y="677.30" font-family='"Liberation Sans", sans-serif' font-size="9.0" font-style="italic" text-anchor="middle" stroke="#000" stroke-width="0.25">η</text>
<text x="346.40" y="679.00" font-family='"Liberation Sans", sans-serif' font-size="6.8" text-anchor="middle">0</text>
<text x="474.60" y="844.20" font-family='"Liberation Serif", serif' font-size="17.60" text-anchor="start" textLength="62.10" lengthAdjust="spacingAndGlyphs" fill="#000">(f) WG 8</text>
<rect x="144.4" y="857.40" width="43.4" height="7.4" fill="#ff0000"/>
<text x="199.30" y="867.60" font-family='"Liberation Sans", sans-serif' font-size="19.20" text-anchor="start" textLength="35.00" lengthAdjust="spacingAndGlyphs" fill="#000" stroke="#000" stroke-width="0.3">SPH</text>
<rect x="271" y="857.40" width="36" height="7.4" fill="#008000"/>
<text x="321.80" y="867.60" font-family='"Liberation Sans", sans-serif' font-size="19.20" text-anchor="start" textLength="35.90" lengthAdjust="spacingAndGlyphs" fill="#000" stroke="#000" stroke-width="0.3">VOF</text>
<rect x="394.5" y="857.40" width="7.4" height="7.4" fill="#0000ff"/>
<rect x="413.7" y="857.40" width="7.4" height="7.4" fill="#0000ff"/>
<text x="445.20" y="867.60" font-family='"Liberation Sans", sans-serif' font-size="19.20" text-anchor="start" textLength="104.00" lengthAdjust="spacingAndGlyphs" fill="#000" stroke="#000" stroke-width="0.3">Experiment</text>
</svg>
</body>
</html>
